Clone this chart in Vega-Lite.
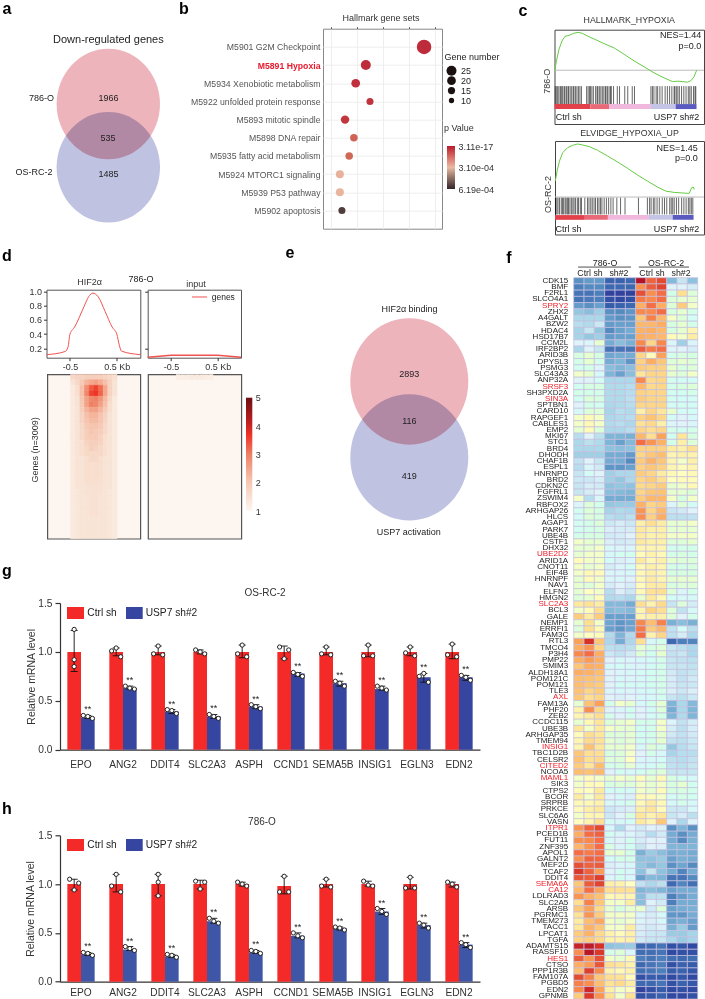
{"$schema":"https://vega.github.io/schema/vega-lite/v6.json","padding":0,"bounds":"flush","spacing":0,
"config":{"font":"Liberation Sans","view":{"stroke":null,"discreteWidth":0.01,"discreteHeight":0.01},"axis":{"grid":false,"labelColor":"#333","titleColor":"#333","titleFontWeight":"normal","domainColor":"#333","tickColor":"#333"},"title":{"fontWeight":"normal","color":"#333","fontSize":9},"text":{"color":"#222","fontSize":9}},
"datasets":{
"g_bars":[{"gene":"EPO","grp":"Ctrl sh","mean":1,"lo":0.8,"hi":1.22},{"gene":"ANG2","grp":"Ctrl sh","mean":1,"lo":0.96,"hi":1.04},{"gene":"DDIT4","grp":"Ctrl sh","mean":1,"lo":0.97,"hi":1.06},{"gene":"SLC2A3","grp":"Ctrl sh","mean":1,"lo":0.98,"hi":1.02},{"gene":"ASPH","grp":"Ctrl sh","mean":1,"lo":0.94,"hi":1.07},{"gene":"CCND1","grp":"Ctrl sh","mean":1,"lo":0.93,"hi":1.06},{"gene":"SEMA5B","grp":"Ctrl sh","mean":1,"lo":0.97,"hi":1.05},{"gene":"INSIG1","grp":"Ctrl sh","mean":1,"lo":0.95,"hi":1.07},{"gene":"EGLN3","grp":"Ctrl sh","mean":1,"lo":0.96,"hi":1.05},{"gene":"EDN2","grp":"Ctrl sh","mean":1,"lo":0.93,"hi":1.08},{"gene":"EPO","grp":"USP7 sh#2","mean":0.33,"lo":0.32,"hi":0.35,"sig":"**"},{"gene":"ANG2","grp":"USP7 sh#2","mean":0.63,"lo":0.62,"hi":0.65,"sig":"**"},{"gene":"DDIT4","grp":"USP7 sh#2","mean":0.39,"lo":0.37,"hi":0.41,"sig":"**"},{"gene":"SLC2A3","grp":"USP7 sh#2","mean":0.34,"lo":0.32,"hi":0.36,"sig":"**"},{"gene":"ASPH","grp":"USP7 sh#2","mean":0.44,"lo":0.42,"hi":0.46,"sig":"**"},{"gene":"CCND1","grp":"USP7 sh#2","mean":0.78,"lo":0.75,"hi":0.79,"sig":"**"},{"gene":"SEMA5B","grp":"USP7 sh#2","mean":0.68,"lo":0.65,"hi":0.7,"sig":"**"},{"gene":"INSIG1","grp":"USP7 sh#2","mean":0.62,"lo":0.61,"hi":0.65,"sig":"**"},{"gene":"EGLN3","grp":"USP7 sh#2","mean":0.74,"lo":0.69,"hi":0.78,"sig":"**"},{"gene":"EDN2","grp":"USP7 sh#2","mean":0.74,"lo":0.71,"hi":0.76,"sig":"**"}],
"g_pts":[{"gene":"EPO","k":"c2","val":1.23},{"gene":"EPO","k":"c2","val":0.92},{"gene":"EPO","k":"c2","val":0.85},{"gene":"ANG2","k":"c1","val":1.01},{"gene":"ANG2","k":"c2","val":1.04},{"gene":"ANG2","k":"c3","val":0.95},{"gene":"DDIT4","k":"c1","val":0.98},{"gene":"DDIT4","k":"c2","val":1.06},{"gene":"DDIT4","k":"c3","val":0.97},{"gene":"SLC2A3","k":"c1","val":1.02},{"gene":"SLC2A3","k":"c2","val":1},{"gene":"SLC2A3","k":"c3","val":0.98},{"gene":"ASPH","k":"c1","val":0.98},{"gene":"ASPH","k":"c2","val":1.07},{"gene":"ASPH","k":"c3","val":0.95},{"gene":"CCND1","k":"c1","val":1.05},{"gene":"CCND1","k":"c3","val":1.02},{"gene":"CCND1","k":"c2","val":0.93},{"gene":"SEMA5B","k":"c1","val":0.98},{"gene":"SEMA5B","k":"c2","val":1.05},{"gene":"SEMA5B","k":"c3","val":0.97},{"gene":"INSIG1","k":"c1","val":0.96},{"gene":"INSIG1","k":"c2","val":1.07},{"gene":"INSIG1","k":"c3","val":0.96},{"gene":"EGLN3","k":"c1","val":0.99},{"gene":"EGLN3","k":"c2","val":1.05},{"gene":"EGLN3","k":"c3","val":0.96},{"gene":"EDN2","k":"c1","val":0.97},{"gene":"EDN2","k":"c2","val":1.08},{"gene":"EDN2","k":"c3","val":0.95},{"gene":"EPO","k":"u1","val":0.35},{"gene":"EPO","k":"u2","val":0.34},{"gene":"EPO","k":"u3","val":0.32},{"gene":"ANG2","k":"u1","val":0.65},{"gene":"ANG2","k":"u2","val":0.63},{"gene":"ANG2","k":"u3","val":0.62},{"gene":"DDIT4","k":"u1","val":0.41},{"gene":"DDIT4","k":"u2","val":0.4},{"gene":"DDIT4","k":"u3","val":0.37},{"gene":"SLC2A3","k":"u1","val":0.36},{"gene":"SLC2A3","k":"u2","val":0.34},{"gene":"SLC2A3","k":"u3","val":0.32},{"gene":"ASPH","k":"u1","val":0.46},{"gene":"ASPH","k":"u2","val":0.44},{"gene":"ASPH","k":"u3","val":0.42},{"gene":"CCND1","k":"u1","val":0.79},{"gene":"CCND1","k":"u2","val":0.77},{"gene":"CCND1","k":"u3","val":0.75},{"gene":"SEMA5B","k":"u1","val":0.7},{"gene":"SEMA5B","k":"u2","val":0.68},{"gene":"SEMA5B","k":"u3","val":0.65},{"gene":"INSIG1","k":"u1","val":0.65},{"gene":"INSIG1","k":"u2","val":0.63},{"gene":"INSIG1","k":"u3","val":0.61},{"gene":"EGLN3","k":"u1","val":0.75},{"gene":"EGLN3","k":"u2","val":0.78},{"gene":"EGLN3","k":"u3","val":0.69},{"gene":"EDN2","k":"u1","val":0.76},{"gene":"EDN2","k":"u2","val":0.74},{"gene":"EDN2","k":"u3","val":0.71}],
"h_bars":[{"gene":"EPO","grp":"Ctrl sh","mean":1,"lo":0.94,"hi":1.05},{"gene":"ANG2","grp":"Ctrl sh","mean":1,"lo":0.92,"hi":1.1},{"gene":"DDIT4","grp":"Ctrl sh","mean":1,"lo":0.88,"hi":1.1},{"gene":"SLC2A3","grp":"Ctrl sh","mean":1,"lo":0.95,"hi":1.04},{"gene":"ASPH","grp":"Ctrl sh","mean":1,"lo":0.98,"hi":1.02},{"gene":"CCND1","grp":"Ctrl sh","mean":0.98,"lo":0.9,"hi":1.08},{"gene":"SEMA5B","grp":"Ctrl sh","mean":1,"lo":0.97,"hi":1.05},{"gene":"INSIG1","grp":"Ctrl sh","mean":1,"lo":0.98,"hi":1.03},{"gene":"EGLN3","grp":"Ctrl sh","mean":1,"lo":0.95,"hi":1.07},{"gene":"EDN2","grp":"Ctrl sh","mean":1,"lo":0.97,"hi":1.02},{"gene":"EPO","grp":"USP7 sh#2","mean":0.28,"lo":0.27,"hi":0.3,"sig":"**"},{"gene":"ANG2","grp":"USP7 sh#2","mean":0.33,"lo":0.32,"hi":0.36,"sig":"**"},{"gene":"DDIT4","grp":"USP7 sh#2","mean":0.26,"lo":0.25,"hi":0.28,"sig":"**"},{"gene":"SLC2A3","grp":"USP7 sh#2","mean":0.62,"lo":0.6,"hi":0.65,"sig":"**"},{"gene":"ASPH","grp":"USP7 sh#2","mean":0.3,"lo":0.29,"hi":0.32,"sig":"**"},{"gene":"CCND1","grp":"USP7 sh#2","mean":0.47,"lo":0.45,"hi":0.5,"sig":"**"},{"gene":"SEMA5B","grp":"USP7 sh#2","mean":0.55,"lo":0.53,"hi":0.56,"sig":"**"},{"gene":"INSIG1","grp":"USP7 sh#2","mean":0.72,"lo":0.69,"hi":0.75,"sig":"**"},{"gene":"EGLN3","grp":"USP7 sh#2","mean":0.58,"lo":0.55,"hi":0.6,"sig":"**"},{"gene":"EDN2","grp":"USP7 sh#2","mean":0.38,"lo":0.35,"hi":0.4,"sig":"**"}],
"h_pts":[{"gene":"EPO","k":"c1","val":1.05},{"gene":"EPO","k":"c2","val":0.94},{"gene":"EPO","k":"c3","val":1.01},{"gene":"ANG2","k":"c1","val":0.98},{"gene":"ANG2","k":"c2","val":1.1},{"gene":"ANG2","k":"c3","val":0.92},{"gene":"DDIT4","k":"c2","val":1.1},{"gene":"DDIT4","k":"c2","val":1.02},{"gene":"DDIT4","k":"c2","val":0.88},{"gene":"SLC2A3","k":"c1","val":1.03},{"gene":"SLC2A3","k":"c2","val":0.95},{"gene":"SLC2A3","k":"c3","val":1.02},{"gene":"ASPH","k":"c1","val":1.02},{"gene":"ASPH","k":"c2","val":1},{"gene":"ASPH","k":"c3","val":0.98},{"gene":"CCND1","k":"c1","val":0.92},{"gene":"CCND1","k":"c2","val":1.08},{"gene":"CCND1","k":"c3","val":0.92},{"gene":"SEMA5B","k":"c1","val":0.98},{"gene":"SEMA5B","k":"c2","val":1.05},{"gene":"SEMA5B","k":"c3","val":0.97},{"gene":"INSIG1","k":"c1","val":1.03},{"gene":"INSIG1","k":"c2","val":0.99},{"gene":"INSIG1","k":"c3","val":0.98},{"gene":"EGLN3","k":"c1","val":0.96},{"gene":"EGLN3","k":"c2","val":1.07},{"gene":"EGLN3","k":"c3","val":0.96},{"gene":"EDN2","k":"c1","val":1.02},{"gene":"EDN2","k":"c2","val":1},{"gene":"EDN2","k":"c3","val":0.97},{"gene":"EPO","k":"u1","val":0.3},{"gene":"EPO","k":"u2","val":0.29},{"gene":"EPO","k":"u3","val":0.27},{"gene":"ANG2","k":"u1","val":0.36},{"gene":"ANG2","k":"u2","val":0.34},{"gene":"ANG2","k":"u3","val":0.32},{"gene":"DDIT4","k":"u1","val":0.28},{"gene":"DDIT4","k":"u2","val":0.27},{"gene":"DDIT4","k":"u3","val":0.25},{"gene":"SLC2A3","k":"u1","val":0.65},{"gene":"SLC2A3","k":"u2","val":0.62},{"gene":"SLC2A3","k":"u3","val":0.6},{"gene":"ASPH","k":"u1","val":0.32},{"gene":"ASPH","k":"u2","val":0.31},{"gene":"ASPH","k":"u3","val":0.29},{"gene":"CCND1","k":"u1","val":0.5},{"gene":"CCND1","k":"u2","val":0.47},{"gene":"CCND1","k":"u3","val":0.45},{"gene":"SEMA5B","k":"u1","val":0.56},{"gene":"SEMA5B","k":"u2","val":0.55},{"gene":"SEMA5B","k":"u3","val":0.53},{"gene":"INSIG1","k":"u1","val":0.75},{"gene":"INSIG1","k":"u2","val":0.72},{"gene":"INSIG1","k":"u3","val":0.69},{"gene":"EGLN3","k":"u1","val":0.6},{"gene":"EGLN3","k":"u2","val":0.58},{"gene":"EGLN3","k":"u3","val":0.55},{"gene":"EDN2","k":"u1","val":0.4},{"gene":"EDN2","k":"u2","val":0.38},{"gene":"EDN2","k":"u3","val":0.35}],
"hits1":[{"r":0.005},{"r":0.015},{"r":0.022},{"r":0.03},{"r":0.04},{"r":0.048},{"r":0.055},{"r":0.065},{"r":0.07},{"r":0.08},{"r":0.09},{"r":0.095},{"r":0.105},{"r":0.115},{"r":0.125},{"r":0.13},{"r":0.14},{"r":0.15},{"r":0.16},{"r":0.17},{"r":0.18},{"r":0.215},{"r":0.225},{"r":0.235},{"r":0.24},{"r":0.25},{"r":0.26},{"r":0.275},{"r":0.285},{"r":0.29},{"r":0.3},{"r":0.31},{"r":0.32},{"r":0.33},{"r":0.34},{"r":0.345},{"r":0.355},{"r":0.365},{"r":0.375},{"r":0.38},{"r":0.395},{"r":0.42},{"r":0.435},{"r":0.47},{"r":0.49},{"r":0.52},{"r":0.535},{"r":0.645},{"r":0.655},{"r":0.665},{"r":0.68},{"r":0.69},{"r":0.705},{"r":0.72},{"r":0.74},{"r":0.755},{"r":0.77},{"r":0.785},{"r":0.8},{"r":0.805},{"r":0.815},{"r":0.825},{"r":0.835},{"r":0.85},{"r":0.865},{"r":0.88},{"r":0.895},{"r":0.905},{"r":0.915},{"r":0.93},{"r":0.94},{"r":0.945}],
"hits2":[{"r":0.003},{"r":0.012},{"r":0.02},{"r":0.03},{"r":0.042},{"r":0.05},{"r":0.058},{"r":0.068},{"r":0.075},{"r":0.085},{"r":0.09},{"r":0.1},{"r":0.11},{"r":0.12},{"r":0.128},{"r":0.138},{"r":0.15},{"r":0.158},{"r":0.17},{"r":0.178},{"r":0.2},{"r":0.218},{"r":0.228},{"r":0.24},{"r":0.25},{"r":0.262},{"r":0.272},{"r":0.285},{"r":0.295},{"r":0.305},{"r":0.315},{"r":0.33},{"r":0.345},{"r":0.36},{"r":0.375},{"r":0.39},{"r":0.415},{"r":0.44},{"r":0.47},{"r":0.56},{"r":0.62},{"r":0.635},{"r":0.645},{"r":0.66},{"r":0.67},{"r":0.685},{"r":0.7},{"r":0.72},{"r":0.735},{"r":0.75},{"r":0.77},{"r":0.78},{"r":0.79},{"r":0.8},{"r":0.815},{"r":0.83},{"r":0.85},{"r":0.865},{"r":0.88},{"r":0.895},{"r":0.905},{"r":0.915},{"r":0.925}],
"peaks":[{"r":1,"c":6,"v":1.5},{"r":1,"c":7,"v":1.6},{"r":1,"c":8,"v":1.6},{"r":1,"c":9,"v":1.7},{"r":1,"c":10,"v":1.7},{"r":1,"c":11,"v":1.7},{"r":1,"c":12,"v":1.7},{"r":1,"c":13,"v":1.6},{"r":1,"c":14,"v":1.5},{"r":1,"c":15,"v":1.4},{"r":2,"c":6,"v":1.3},{"r":2,"c":7,"v":1.5},{"r":2,"c":8,"v":1.8},{"r":2,"c":9,"v":2.2},{"r":2,"c":10,"v":2.4},{"r":2,"c":11,"v":2.5},{"r":2,"c":12,"v":2.3},{"r":2,"c":13,"v":2},{"r":2,"c":14,"v":1.6},{"r":2,"c":15,"v":1.3},{"r":3,"c":6,"v":1.2},{"r":3,"c":7,"v":1.4},{"r":3,"c":8,"v":2},{"r":3,"c":9,"v":2.8},{"r":3,"c":10,"v":3.4},{"r":3,"c":11,"v":3.6},{"r":3,"c":12,"v":3.2},{"r":3,"c":13,"v":2.4},{"r":3,"c":14,"v":1.6},{"r":3,"c":15,"v":1.3},{"r":4,"c":6,"v":1.2},{"r":4,"c":7,"v":1.4},{"r":4,"c":8,"v":2},{"r":4,"c":9,"v":2.9},{"r":4,"c":10,"v":3.6},{"r":4,"c":11,"v":3.7},{"r":4,"c":12,"v":3.3},{"r":4,"c":13,"v":2.4},{"r":4,"c":14,"v":1.6},{"r":4,"c":15,"v":1.3},{"r":5,"c":6,"v":1.2},{"r":5,"c":7,"v":1.3},{"r":5,"c":8,"v":1.9},{"r":5,"c":9,"v":2.5},{"r":5,"c":10,"v":2.9},{"r":5,"c":11,"v":3},{"r":5,"c":12,"v":2.7},{"r":5,"c":13,"v":2.1},{"r":5,"c":14,"v":1.5},{"r":5,"c":15,"v":1.2},{"r":6,"c":6,"v":1.2},{"r":6,"c":7,"v":1.3},{"r":6,"c":8,"v":1.8},{"r":6,"c":9,"v":2.5},{"r":6,"c":10,"v":3},{"r":6,"c":11,"v":2.9},{"r":6,"c":12,"v":2.5},{"r":6,"c":13,"v":2},{"r":6,"c":14,"v":1.4},{"r":6,"c":15,"v":1.2},{"r":7,"c":6,"v":1.2},{"r":7,"c":7,"v":1.3},{"r":7,"c":8,"v":1.7},{"r":7,"c":9,"v":2.2},{"r":7,"c":10,"v":2.5},{"r":7,"c":11,"v":2.5},{"r":7,"c":12,"v":2.2},{"r":7,"c":13,"v":1.8},{"r":7,"c":14,"v":1.4},{"r":7,"c":15,"v":1.2},{"r":8,"c":6,"v":1.2},{"r":8,"c":7,"v":1.3},{"r":8,"c":8,"v":1.6},{"r":8,"c":9,"v":2},{"r":8,"c":10,"v":2.2},{"r":8,"c":11,"v":2.2},{"r":8,"c":12,"v":1.9},{"r":8,"c":13,"v":1.6},{"r":8,"c":14,"v":1.3},{"r":8,"c":15,"v":1.2},{"r":9,"c":6,"v":1.2},{"r":9,"c":7,"v":1.3},{"r":9,"c":8,"v":1.6},{"r":9,"c":9,"v":1.9},{"r":9,"c":10,"v":2.1},{"r":9,"c":11,"v":2.1},{"r":9,"c":12,"v":1.9},{"r":9,"c":13,"v":1.6},{"r":9,"c":14,"v":1.3},{"r":9,"c":15,"v":1.2},{"r":10,"c":6,"v":1.2},{"r":10,"c":7,"v":1.3},{"r":10,"c":8,"v":1.5},{"r":10,"c":9,"v":1.8},{"r":10,"c":10,"v":1.9},{"r":10,"c":11,"v":1.9},{"r":10,"c":12,"v":1.8},{"r":10,"c":13,"v":1.5},{"r":10,"c":14,"v":1.3},{"r":10,"c":15,"v":1.2},{"r":11,"c":6,"v":1.2},{"r":11,"c":7,"v":1.3},{"r":11,"c":8,"v":1.5},{"r":11,"c":9,"v":1.7},{"r":11,"c":10,"v":1.9},{"r":11,"c":11,"v":1.8},{"r":11,"c":12,"v":1.7},{"r":11,"c":13,"v":1.5},{"r":11,"c":14,"v":1.3},{"r":11,"c":15,"v":1.2},{"r":12,"c":6,"v":1.2},{"r":12,"c":7,"v":1.3},{"r":12,"c":8,"v":1.5},{"r":12,"c":9,"v":1.7},{"r":12,"c":10,"v":1.8},{"r":12,"c":11,"v":1.8},{"r":12,"c":12,"v":1.6},{"r":12,"c":13,"v":1.4},{"r":12,"c":14,"v":1.3},{"r":12,"c":15,"v":1.2},{"r":13,"c":6,"v":1.2},{"r":13,"c":7,"v":1.3},{"r":13,"c":8,"v":1.4},{"r":13,"c":9,"v":1.6},{"r":13,"c":10,"v":1.7},{"r":13,"c":11,"v":1.7},{"r":13,"c":12,"v":1.6},{"r":13,"c":13,"v":1.4},{"r":13,"c":14,"v":1.3},{"r":13,"c":15,"v":1.2},{"r":14,"c":6,"v":1.2},{"r":14,"c":7,"v":1.3},{"r":14,"c":8,"v":1.4},{"r":14,"c":9,"v":1.5},{"r":14,"c":10,"v":1.7},{"r":14,"c":11,"v":1.6},{"r":14,"c":12,"v":1.5},{"r":14,"c":13,"v":1.4},{"r":14,"c":14,"v":1.3},{"r":14,"c":15,"v":1.2},{"r":15,"c":6,"v":1.2},{"r":15,"c":7,"v":1.3},{"r":15,"c":8,"v":1.4},{"r":15,"c":9,"v":1.5},{"r":15,"c":10,"v":1.5},{"r":15,"c":11,"v":1.5},{"r":15,"c":12,"v":1.5},{"r":15,"c":13,"v":1.4},{"r":15,"c":14,"v":1.3},{"r":15,"c":15,"v":1.2},{"r":16,"c":6,"v":1.2},{"r":16,"c":7,"v":1.3},{"r":16,"c":8,"v":1.3},{"r":16,"c":9,"v":1.4},{"r":16,"c":10,"v":1.5},{"r":16,"c":11,"v":1.5},{"r":16,"c":12,"v":1.4},{"r":16,"c":13,"v":1.3},{"r":16,"c":14,"v":1.3},{"r":16,"c":15,"v":1.2},{"r":17,"c":6,"v":1.2},{"r":17,"c":7,"v":1.3},{"r":17,"c":8,"v":1.3},{"r":17,"c":9,"v":1.4},{"r":17,"c":10,"v":1.4},{"r":17,"c":11,"v":1.4},{"r":17,"c":12,"v":1.4},{"r":17,"c":13,"v":1.3},{"r":17,"c":14,"v":1.3},{"r":17,"c":15,"v":1.2},{"r":18,"c":6,"v":1.2},{"r":18,"c":7,"v":1.3},{"r":18,"c":8,"v":1.3},{"r":18,"c":9,"v":1.4},{"r":18,"c":10,"v":1.4},{"r":18,"c":11,"v":1.4},{"r":18,"c":12,"v":1.4},{"r":18,"c":13,"v":1.3},{"r":18,"c":14,"v":1.3},{"r":18,"c":15,"v":1.2},{"r":19,"c":6,"v":1.2},{"r":19,"c":7,"v":1.3},{"r":19,"c":8,"v":1.3},{"r":19,"c":9,"v":1.4},{"r":19,"c":10,"v":1.4},{"r":19,"c":11,"v":1.4},{"r":19,"c":12,"v":1.4},{"r":19,"c":13,"v":1.3},{"r":19,"c":14,"v":1.3},{"r":19,"c":15,"v":1.2},{"r":20,"c":6,"v":1.2},{"r":20,"c":7,"v":1.3},{"r":20,"c":8,"v":1.3},{"r":20,"c":9,"v":1.4},{"r":20,"c":10,"v":1.4},{"r":20,"c":11,"v":1.4},{"r":20,"c":12,"v":1.4},{"r":20,"c":13,"v":1.3},{"r":20,"c":14,"v":1.3},{"r":20,"c":15,"v":1.2},{"r":21,"c":6,"v":1.2},{"r":21,"c":7,"v":1.3},{"r":21,"c":8,"v":1.3},{"r":21,"c":9,"v":1.35},{"r":21,"c":10,"v":1.35},{"r":21,"c":11,"v":1.35},{"r":21,"c":12,"v":1.35},{"r":21,"c":13,"v":1.3},{"r":21,"c":14,"v":1.3},{"r":21,"c":15,"v":1.2},{"r":22,"c":6,"v":1.2},{"r":22,"c":7,"v":1.25},{"r":22,"c":8,"v":1.3},{"r":22,"c":9,"v":1.35},{"r":22,"c":10,"v":1.35},{"r":22,"c":11,"v":1.35},{"r":22,"c":12,"v":1.35},{"r":22,"c":13,"v":1.3},{"r":22,"c":14,"v":1.25},{"r":22,"c":15,"v":1.2},{"r":23,"c":6,"v":1.2},{"r":23,"c":7,"v":1.25},{"r":23,"c":8,"v":1.3},{"r":23,"c":9,"v":1.3},{"r":23,"c":10,"v":1.35},{"r":23,"c":11,"v":1.35},{"r":23,"c":12,"v":1.3},{"r":23,"c":13,"v":1.3},{"r":23,"c":14,"v":1.25},{"r":23,"c":15,"v":1.2},{"r":24,"c":6,"v":1.2},{"r":24,"c":7,"v":1.25},{"r":24,"c":8,"v":1.3},{"r":24,"c":9,"v":1.3},{"r":24,"c":10,"v":1.35},{"r":24,"c":11,"v":1.35},{"r":24,"c":12,"v":1.3},{"r":24,"c":13,"v":1.3},{"r":24,"c":14,"v":1.25},{"r":24,"c":15,"v":1.2},{"r":25,"c":6,"v":1.2},{"r":25,"c":7,"v":1.25},{"r":25,"c":8,"v":1.3},{"r":25,"c":9,"v":1.3},{"r":25,"c":10,"v":1.35},{"r":25,"c":11,"v":1.35},{"r":25,"c":12,"v":1.3},{"r":25,"c":13,"v":1.3},{"r":25,"c":14,"v":1.25},{"r":25,"c":15,"v":1.2},{"r":26,"c":6,"v":1.2},{"r":26,"c":7,"v":1.25},{"r":26,"c":8,"v":1.3},{"r":26,"c":9,"v":1.3},{"r":26,"c":10,"v":1.35},{"r":26,"c":11,"v":1.35},{"r":26,"c":12,"v":1.3},{"r":26,"c":13,"v":1.3},{"r":26,"c":14,"v":1.25},{"r":26,"c":15,"v":1.2},{"r":27,"c":6,"v":1.2},{"r":27,"c":7,"v":1.25},{"r":27,"c":8,"v":1.3},{"r":27,"c":9,"v":1.3},{"r":27,"c":10,"v":1.3},{"r":27,"c":11,"v":1.3},{"r":27,"c":12,"v":1.3},{"r":27,"c":13,"v":1.3},{"r":27,"c":14,"v":1.25},{"r":27,"c":15,"v":1.2},{"r":28,"c":6,"v":1.2},{"r":28,"c":7,"v":1.25},{"r":28,"c":8,"v":1.3},{"r":28,"c":9,"v":1.3},{"r":28,"c":10,"v":1.3},{"r":28,"c":11,"v":1.3},{"r":28,"c":12,"v":1.3},{"r":28,"c":13,"v":1.3},{"r":28,"c":14,"v":1.25},{"r":28,"c":15,"v":1.2},{"r":29,"c":6,"v":1.2},{"r":29,"c":7,"v":1.25},{"r":29,"c":8,"v":1.3},{"r":29,"c":9,"v":1.3},{"r":29,"c":10,"v":1.3},{"r":29,"c":11,"v":1.3},{"r":29,"c":12,"v":1.3},{"r":29,"c":13,"v":1.3},{"r":29,"c":14,"v":1.25},{"r":29,"c":15,"v":1.2},{"r":30,"c":6,"v":1.2},{"r":30,"c":7,"v":1.25},{"r":30,"c":8,"v":1.3},{"r":30,"c":9,"v":1.3},{"r":30,"c":10,"v":1.3},{"r":30,"c":11,"v":1.3},{"r":30,"c":12,"v":1.3},{"r":30,"c":13,"v":1.3},{"r":30,"c":14,"v":1.25},{"r":30,"c":15,"v":1.2}],
"expr":[{"g":"CDK15","c":1,"v":-3.5},{"g":"CDK15","c":2,"v":-3.3},{"g":"CDK15","c":3,"v":-3.3},{"g":"CDK15","c":4,"v":-4.3},{"g":"CDK15","c":5,"v":-4.3},{"g":"CDK15","c":6,"v":-4.2},{"g":"CDK15","c":7,"v":4.7},{"g":"CDK15","c":8,"v":3.2},{"g":"CDK15","c":9,"v":3.6},{"g":"CDK15","c":10,"v":-2.7},{"g":"CDK15","c":11,"v":-1.5},{"g":"CDK15","c":12,"v":-2.5},
{"g":"BMF","c":1,"v":-3.8},{"g":"BMF","c":2,"v":-3.6},{"g":"BMF","c":3,"v":-3.6},{"g":"BMF","c":4,"v":-4.2},{"g":"BMF","c":5,"v":-4.2},{"g":"BMF","c":6,"v":-4.2},{"g":"BMF","c":7,"v":2.5},{"g":"BMF","c":8,"v":3.3},{"g":"BMF","c":9,"v":3.7},{"g":"BMF","c":10,"v":-1},{"g":"BMF","c":11,"v":-1},{"g":"BMF","c":12,"v":-1.2},
{"g":"F2RL1","c":1,"v":-4},{"g":"F2RL1","c":2,"v":-4},{"g":"F2RL1","c":3,"v":-3.8},{"g":"F2RL1","c":4,"v":-4.8},{"g":"F2RL1","c":5,"v":-4.8},{"g":"F2RL1","c":6,"v":-4.8},{"g":"F2RL1","c":7,"v":3.5},{"g":"F2RL1","c":8,"v":2.5},{"g":"F2RL1","c":9,"v":3},{"g":"F2RL1","c":10,"v":-0.5},{"g":"F2RL1","c":11,"v":1},{"g":"F2RL1","c":12,"v":-0.3},
{"g":"SLCO4A1","c":1,"v":-4},{"g":"SLCO4A1","c":2,"v":-3.9},{"g":"SLCO4A1","c":3,"v":-3.8},{"g":"SLCO4A1","c":4,"v":-4.6},{"g":"SLCO4A1","c":5,"v":-4.7},{"g":"SLCO4A1","c":6,"v":-4.6},{"g":"SLCO4A1","c":7,"v":2.8},{"g":"SLCO4A1","c":8,"v":2.6},{"g":"SLCO4A1","c":9,"v":3},{"g":"SLCO4A1","c":10,"v":-0.3},{"g":"SLCO4A1","c":11,"v":-0.2},{"g":"SLCO4A1","c":12,"v":-0.2},
{"g":"SPRY2","c":1,"v":-3.3},{"g":"SPRY2","c":2,"v":-3.5},{"g":"SPRY2","c":3,"v":-3.2},{"g":"SPRY2","c":4,"v":-4.4},{"g":"SPRY2","c":5,"v":-4.3},{"g":"SPRY2","c":6,"v":-4.2},{"g":"SPRY2","c":7,"v":2},{"g":"SPRY2","c":8,"v":3},{"g":"SPRY2","c":9,"v":2},{"g":"SPRY2","c":10,"v":-0.3},{"g":"SPRY2","c":11,"v":1.4},{"g":"SPRY2","c":12,"v":-0.1},
{"g":"ZHX2","c":1,"v":-2.4},{"g":"ZHX2","c":2,"v":-2.6},{"g":"ZHX2","c":3,"v":-2.2},{"g":"ZHX2","c":4,"v":-3.5},{"g":"ZHX2","c":5,"v":-3.6},{"g":"ZHX2","c":6,"v":-3.4},{"g":"ZHX2","c":7,"v":2.6},{"g":"ZHX2","c":8,"v":2.6},{"g":"ZHX2","c":9,"v":3},{"g":"ZHX2","c":10,"v":-0.4},{"g":"ZHX2","c":11,"v":-0.2},{"g":"ZHX2","c":12,"v":-0.5},
{"g":"A4GALT","c":1,"v":-2},{"g":"A4GALT","c":2,"v":-2},{"g":"A4GALT","c":3,"v":-2},{"g":"A4GALT","c":4,"v":-3.3},{"g":"A4GALT","c":5,"v":-3.5},{"g":"A4GALT","c":6,"v":-3.4},{"g":"A4GALT","c":7,"v":1.5},{"g":"A4GALT","c":8,"v":2.7},{"g":"A4GALT","c":9,"v":1.8},{"g":"A4GALT","c":10,"v":-0.1},{"g":"A4GALT","c":11,"v":-0.3},{"g":"A4GALT","c":12,"v":-0.7},
{"g":"BZW2","c":1,"v":-1.8},{"g":"BZW2","c":2,"v":-1.9},{"g":"BZW2","c":3,"v":-1.4},{"g":"BZW2","c":4,"v":-3.3},{"g":"BZW2","c":5,"v":-3.2},{"g":"BZW2","c":6,"v":-3.2},{"g":"BZW2","c":7,"v":1.8},{"g":"BZW2","c":8,"v":1.8},{"g":"BZW2","c":9,"v":2},{"g":"BZW2","c":10,"v":-0.4},{"g":"BZW2","c":11,"v":-0.2},{"g":"BZW2","c":12,"v":-0.5},
{"g":"HDAC4","c":1,"v":-2.1},{"g":"HDAC4","c":2,"v":-1.5},{"g":"HDAC4","c":3,"v":-2.4},{"g":"HDAC4","c":4,"v":-3.6},{"g":"HDAC4","c":5,"v":-3.2},{"g":"HDAC4","c":6,"v":-3},{"g":"HDAC4","c":7,"v":1.9},{"g":"HDAC4","c":8,"v":2},{"g":"HDAC4","c":9,"v":1.8},{"g":"HDAC4","c":10,"v":-0.4},{"g":"HDAC4","c":11,"v":-0.2},{"g":"HDAC4","c":12,"v":0.3},
{"g":"HSD17B7","c":1,"v":-2.1},{"g":"HSD17B7","c":2,"v":-2.4},{"g":"HSD17B7","c":3,"v":-2.2},{"g":"HSD17B7","c":4,"v":-3.3},{"g":"HSD17B7","c":5,"v":-3.2},{"g":"HSD17B7","c":6,"v":-3.2},{"g":"HSD17B7","c":7,"v":2},{"g":"HSD17B7","c":8,"v":1.9},{"g":"HSD17B7","c":9,"v":1.8},{"g":"HSD17B7","c":10,"v":0.1},{"g":"HSD17B7","c":11,"v":-0.1},{"g":"HSD17B7","c":12,"v":0.6},
{"g":"CCM2L","c":1,"v":-1},{"g":"CCM2L","c":2,"v":-0.9},{"g":"CCM2L","c":3,"v":-0.2},{"g":"CCM2L","c":4,"v":-3},{"g":"CCM2L","c":5,"v":-2.6},{"g":"CCM2L","c":6,"v":-2.9},{"g":"CCM2L","c":7,"v":2.6},{"g":"CCM2L","c":8,"v":1.2},{"g":"CCM2L","c":9,"v":2.6},{"g":"CCM2L","c":10,"v":-0.9},{"g":"CCM2L","c":11,"v":-2.2},{"g":"CCM2L","c":12,"v":-0.9},
{"g":"IRF2BP2","c":1,"v":-2},{"g":"IRF2BP2","c":2,"v":-1},{"g":"IRF2BP2","c":3,"v":-1.5},{"g":"IRF2BP2","c":4,"v":-4},{"g":"IRF2BP2","c":5,"v":-4},{"g":"IRF2BP2","c":6,"v":-4},{"g":"IRF2BP2","c":7,"v":3.3},{"g":"IRF2BP2","c":8,"v":2.8},{"g":"IRF2BP2","c":9,"v":3},{"g":"IRF2BP2","c":10,"v":-1},{"g":"IRF2BP2","c":11,"v":-1},{"g":"IRF2BP2","c":12,"v":-1.2},
{"g":"ARID3B","c":1,"v":-0.4},{"g":"ARID3B","c":2,"v":-0.2},{"g":"ARID3B","c":3,"v":-0.4},{"g":"ARID3B","c":4,"v":-3.1},{"g":"ARID3B","c":5,"v":-3},{"g":"ARID3B","c":6,"v":-3},{"g":"ARID3B","c":7,"v":1.2},{"g":"ARID3B","c":8,"v":0.1},{"g":"ARID3B","c":9,"v":2.2},{"g":"ARID3B","c":10,"v":-0.5},{"g":"ARID3B","c":11,"v":-0.4},{"g":"ARID3B","c":12,"v":-0.4},
{"g":"DPYSL3","c":1,"v":-0.5},{"g":"DPYSL3","c":2,"v":-0.2},{"g":"DPYSL3","c":3,"v":-0.5},{"g":"DPYSL3","c":4,"v":-3},{"g":"DPYSL3","c":5,"v":-2.8},{"g":"DPYSL3","c":6,"v":-3.4},{"g":"DPYSL3","c":7,"v":1.3},{"g":"DPYSL3","c":8,"v":2},{"g":"DPYSL3","c":9,"v":1.5},{"g":"DPYSL3","c":10,"v":-0.3},{"g":"DPYSL3","c":11,"v":-0.2},{"g":"DPYSL3","c":12,"v":-0.3},
{"g":"PSMG3","c":1,"v":-0.6},{"g":"PSMG3","c":2,"v":-0.5},{"g":"PSMG3","c":3,"v":-1},{"g":"PSMG3","c":4,"v":-2.6},{"g":"PSMG3","c":5,"v":-2.8},{"g":"PSMG3","c":6,"v":-2.6},{"g":"PSMG3","c":7,"v":1.4},{"g":"PSMG3","c":8,"v":1.3},{"g":"PSMG3","c":9,"v":1.3},{"g":"PSMG3","c":10,"v":-0.2},{"g":"PSMG3","c":11,"v":-0.4},{"g":"PSMG3","c":12,"v":-0.3},
{"g":"SLC43A3","c":1,"v":-0.1},{"g":"SLC43A3","c":2,"v":-0.2},{"g":"SLC43A3","c":3,"v":-0.8},{"g":"SLC43A3","c":4,"v":-2.8},{"g":"SLC43A3","c":5,"v":-3.2},{"g":"SLC43A3","c":6,"v":-2.6},{"g":"SLC43A3","c":7,"v":0.8},{"g":"SLC43A3","c":8,"v":1.2},{"g":"SLC43A3","c":9,"v":1.2},{"g":"SLC43A3","c":10,"v":-0.2},{"g":"SLC43A3","c":11,"v":-0.3},{"g":"SLC43A3","c":12,"v":-0.1},
{"g":"ANP32A","c":1,"v":-1},{"g":"ANP32A","c":2,"v":-1},{"g":"ANP32A","c":3,"v":-0.7},{"g":"ANP32A","c":4,"v":-2},{"g":"ANP32A","c":5,"v":-2},{"g":"ANP32A","c":6,"v":-2},{"g":"ANP32A","c":7,"v":2.6},{"g":"ANP32A","c":8,"v":1.1},{"g":"ANP32A","c":9,"v":1.2},{"g":"ANP32A","c":10,"v":-0.6},{"g":"ANP32A","c":11,"v":-0.7},{"g":"ANP32A","c":12,"v":-0.7},
{"g":"SRSF3","c":1,"v":-0.6},{"g":"SRSF3","c":2,"v":-0.4},{"g":"SRSF3","c":3,"v":-0.4},{"g":"SRSF3","c":4,"v":-1.9},{"g":"SRSF3","c":5,"v":-1.9},{"g":"SRSF3","c":6,"v":-1.8},{"g":"SRSF3","c":7,"v":1.8},{"g":"SRSF3","c":8,"v":1.1},{"g":"SRSF3","c":9,"v":1.2},{"g":"SRSF3","c":10,"v":-0.5},{"g":"SRSF3","c":11,"v":-0.4},{"g":"SRSF3","c":12,"v":-0.3},
{"g":"SH3PXD2A","c":1,"v":-0.5},{"g":"SH3PXD2A","c":2,"v":-0.5},{"g":"SH3PXD2A","c":3,"v":-0.5},{"g":"SH3PXD2A","c":4,"v":-1.9},{"g":"SH3PXD2A","c":5,"v":-1.9},{"g":"SH3PXD2A","c":6,"v":-1.8},{"g":"SH3PXD2A","c":7,"v":1.3},{"g":"SH3PXD2A","c":8,"v":1.2},{"g":"SH3PXD2A","c":9,"v":1.2},{"g":"SH3PXD2A","c":10,"v":-0.6},{"g":"SH3PXD2A","c":11,"v":-0.6},{"g":"SH3PXD2A","c":12,"v":-0.5},
{"g":"SIN3A","c":1,"v":-0.6},{"g":"SIN3A","c":2,"v":-0.3},{"g":"SIN3A","c":3,"v":-0.4},{"g":"SIN3A","c":4,"v":-1.9},{"g":"SIN3A","c":5,"v":-1.9},{"g":"SIN3A","c":6,"v":-1.7},{"g":"SIN3A","c":7,"v":1.4},{"g":"SIN3A","c":8,"v":1.2},{"g":"SIN3A","c":9,"v":1.2},{"g":"SIN3A","c":10,"v":-0.6},{"g":"SIN3A","c":11,"v":-0.7},{"g":"SIN3A","c":12,"v":-0.7},
{"g":"SPTBN1","c":1,"v":-1},{"g":"SPTBN1","c":2,"v":-0.5},{"g":"SPTBN1","c":3,"v":-0.6},{"g":"SPTBN1","c":4,"v":-2},{"g":"SPTBN1","c":5,"v":-1.9},{"g":"SPTBN1","c":6,"v":-1.8},{"g":"SPTBN1","c":7,"v":1.2},{"g":"SPTBN1","c":8,"v":1.2},{"g":"SPTBN1","c":9,"v":1.2},{"g":"SPTBN1","c":10,"v":-0.7},{"g":"SPTBN1","c":11,"v":-0.6},{"g":"SPTBN1","c":12,"v":-0.7},
{"g":"CARD10","c":1,"v":-0.8},{"g":"CARD10","c":2,"v":-0.3},{"g":"CARD10","c":3,"v":-0.3},{"g":"CARD10","c":4,"v":-2.1},{"g":"CARD10","c":5,"v":-1.8},{"g":"CARD10","c":6,"v":-1.9},{"g":"CARD10","c":7,"v":0.5},{"g":"CARD10","c":8,"v":1.2},{"g":"CARD10","c":9,"v":0.8},{"g":"CARD10","c":10,"v":-0.2},{"g":"CARD10","c":11,"v":-0.7},{"g":"CARD10","c":12,"v":-0.7},
{"g":"RAPGEF1","c":1,"v":-0.1},{"g":"RAPGEF1","c":2,"v":0.2},{"g":"RAPGEF1","c":3,"v":-0.1},{"g":"RAPGEF1","c":4,"v":-2},{"g":"RAPGEF1","c":5,"v":-1.9},{"g":"RAPGEF1","c":6,"v":-1.8},{"g":"RAPGEF1","c":7,"v":1.3},{"g":"RAPGEF1","c":8,"v":1.6},{"g":"RAPGEF1","c":9,"v":1.2},{"g":"RAPGEF1","c":10,"v":-0.7},{"g":"RAPGEF1","c":11,"v":-1},{"g":"RAPGEF1","c":12,"v":-0.8},
{"g":"CABLES1","c":1,"v":-0.1},{"g":"CABLES1","c":2,"v":0.2},{"g":"CABLES1","c":3,"v":-0.1},{"g":"CABLES1","c":4,"v":-1.9},{"g":"CABLES1","c":5,"v":-1.8},{"g":"CABLES1","c":6,"v":-2},{"g":"CABLES1","c":7,"v":0.9},{"g":"CABLES1","c":8,"v":1.1},{"g":"CABLES1","c":9,"v":0.5},{"g":"CABLES1","c":10,"v":-0.9},{"g":"CABLES1","c":11,"v":-1},{"g":"CABLES1","c":12,"v":-0.9},
{"g":"EMP2","c":1,"v":-0.2},{"g":"EMP2","c":2,"v":0.1},{"g":"EMP2","c":3,"v":-0.3},{"g":"EMP2","c":4,"v":-2},{"g":"EMP2","c":5,"v":-2},{"g":"EMP2","c":6,"v":-1.8},{"g":"EMP2","c":7,"v":1.2},{"g":"EMP2","c":8,"v":1},{"g":"EMP2","c":9,"v":1.2},{"g":"EMP2","c":10,"v":-0.5},{"g":"EMP2","c":11,"v":-0.6},{"g":"EMP2","c":12,"v":-0.5},
{"g":"MKI67","c":1,"v":-1.8},{"g":"MKI67","c":2,"v":-1},{"g":"MKI67","c":3,"v":-1.7},{"g":"MKI67","c":4,"v":-2.8},{"g":"MKI67","c":5,"v":-2.8},{"g":"MKI67","c":6,"v":-2.9},{"g":"MKI67","c":7,"v":1.8},{"g":"MKI67","c":8,"v":1},{"g":"MKI67","c":9,"v":2.2},{"g":"MKI67","c":10,"v":-0.6},{"g":"MKI67","c":11,"v":0.8},{"g":"MKI67","c":12,"v":-0.4},
{"g":"STC1","c":1,"v":-2},{"g":"STC1","c":2,"v":-1.7},{"g":"STC1","c":3,"v":-1.9},{"g":"STC1","c":4,"v":-2.8},{"g":"STC1","c":5,"v":-3.2},{"g":"STC1","c":6,"v":-2.7},{"g":"STC1","c":7,"v":3},{"g":"STC1","c":8,"v":2.4},{"g":"STC1","c":9,"v":1.9},{"g":"STC1","c":10,"v":-0.5},{"g":"STC1","c":11,"v":0.5},{"g":"STC1","c":12,"v":-0.3},
{"g":"BRD4","c":1,"v":-2},{"g":"BRD4","c":2,"v":-2},{"g":"BRD4","c":3,"v":-2},{"g":"BRD4","c":4,"v":-2.5},{"g":"BRD4","c":5,"v":-2.6},{"g":"BRD4","c":6,"v":-2.5},{"g":"BRD4","c":7,"v":1.3},{"g":"BRD4","c":8,"v":1.3},{"g":"BRD4","c":9,"v":1.3},{"g":"BRD4","c":10,"v":0.6},{"g":"BRD4","c":11,"v":0.5},{"g":"BRD4","c":12,"v":1},
{"g":"DHODH","c":1,"v":-2.2},{"g":"DHODH","c":2,"v":-2.2},{"g":"DHODH","c":3,"v":-2.2},{"g":"DHODH","c":4,"v":-3},{"g":"DHODH","c":5,"v":-3},{"g":"DHODH","c":6,"v":-3.3},{"g":"DHODH","c":7,"v":1.2},{"g":"DHODH","c":8,"v":1.5},{"g":"DHODH","c":9,"v":1.7},{"g":"DHODH","c":10,"v":0.3},{"g":"DHODH","c":11,"v":0.5},{"g":"DHODH","c":12,"v":0.4},
{"g":"CHAF1B","c":1,"v":-1.6},{"g":"CHAF1B","c":2,"v":-1},{"g":"CHAF1B","c":3,"v":-1.5},{"g":"CHAF1B","c":4,"v":-3},{"g":"CHAF1B","c":5,"v":-3},{"g":"CHAF1B","c":6,"v":-3.6},{"g":"CHAF1B","c":7,"v":1.4},{"g":"CHAF1B","c":8,"v":1.9},{"g":"CHAF1B","c":9,"v":1.5},{"g":"CHAF1B","c":10,"v":0.3},{"g":"CHAF1B","c":11,"v":-0.1},{"g":"CHAF1B","c":12,"v":0.5},
{"g":"ESPL1","c":1,"v":-1.8},{"g":"ESPL1","c":2,"v":-0.9},{"g":"ESPL1","c":3,"v":-1.3},{"g":"ESPL1","c":4,"v":-3.4},{"g":"ESPL1","c":5,"v":-3.4},{"g":"ESPL1","c":6,"v":-3.2},{"g":"ESPL1","c":7,"v":1.3},{"g":"ESPL1","c":8,"v":1.5},{"g":"ESPL1","c":9,"v":1.3},{"g":"ESPL1","c":10,"v":0.3},{"g":"ESPL1","c":11,"v":0.1},{"g":"ESPL1","c":12,"v":0.3},
{"g":"HNRNPD","c":1,"v":-1.5},{"g":"HNRNPD","c":2,"v":-0.7},{"g":"HNRNPD","c":3,"v":-1},{"g":"HNRNPD","c":4,"v":-2.2},{"g":"HNRNPD","c":5,"v":-2},{"g":"HNRNPD","c":6,"v":-2},{"g":"HNRNPD","c":7,"v":1.4},{"g":"HNRNPD","c":8,"v":1.2},{"g":"HNRNPD","c":9,"v":0.6},{"g":"HNRNPD","c":10,"v":0.2},{"g":"HNRNPD","c":11,"v":0},{"g":"HNRNPD","c":12,"v":0.2},
{"g":"BRD2","c":1,"v":-1.4},{"g":"BRD2","c":2,"v":-1.4},{"g":"BRD2","c":3,"v":-1.2},{"g":"BRD2","c":4,"v":-2.2},{"g":"BRD2","c":5,"v":-2.4},{"g":"BRD2","c":6,"v":-2},{"g":"BRD2","c":7,"v":1.2},{"g":"BRD2","c":8,"v":1.4},{"g":"BRD2","c":9,"v":1},{"g":"BRD2","c":10,"v":0},{"g":"BRD2","c":11,"v":0.1},{"g":"BRD2","c":12,"v":0.1},
{"g":"CDKN2C","c":1,"v":-1.5},{"g":"CDKN2C","c":2,"v":-1.2},{"g":"CDKN2C","c":3,"v":-1.3},{"g":"CDKN2C","c":4,"v":-2.5},{"g":"CDKN2C","c":5,"v":-2.4},{"g":"CDKN2C","c":6,"v":-2.5},{"g":"CDKN2C","c":7,"v":1.1},{"g":"CDKN2C","c":8,"v":1.2},{"g":"CDKN2C","c":9,"v":1.4},{"g":"CDKN2C","c":10,"v":-0.2},{"g":"CDKN2C","c":11,"v":-0.1},{"g":"CDKN2C","c":12,"v":0.2},
{"g":"FGFRL1","c":1,"v":-1.5},{"g":"FGFRL1","c":2,"v":-1.2},{"g":"FGFRL1","c":3,"v":-1},{"g":"FGFRL1","c":4,"v":-2.6},{"g":"FGFRL1","c":5,"v":-2.7},{"g":"FGFRL1","c":6,"v":-2.8},{"g":"FGFRL1","c":7,"v":1.2},{"g":"FGFRL1","c":8,"v":1.5},{"g":"FGFRL1","c":9,"v":1.6},{"g":"FGFRL1","c":10,"v":-0.2},{"g":"FGFRL1","c":11,"v":-0.2},{"g":"FGFRL1","c":12,"v":-0.3},
{"g":"ZSWIM4","c":1,"v":-0.1},{"g":"ZSWIM4","c":2,"v":-1.8},{"g":"ZSWIM4","c":3,"v":-0.9},{"g":"ZSWIM4","c":4,"v":-3},{"g":"ZSWIM4","c":5,"v":-3},{"g":"ZSWIM4","c":6,"v":-3},{"g":"ZSWIM4","c":7,"v":1.4},{"g":"ZSWIM4","c":8,"v":1.8},{"g":"ZSWIM4","c":9,"v":1.8},{"g":"ZSWIM4","c":10,"v":-0.1},{"g":"ZSWIM4","c":11,"v":-0.4},{"g":"ZSWIM4","c":12,"v":-0.1},
{"g":"RBFOX2","c":1,"v":-0.9},{"g":"RBFOX2","c":2,"v":-0.3},{"g":"RBFOX2","c":3,"v":-0.5},{"g":"RBFOX2","c":4,"v":-2.4},{"g":"RBFOX2","c":5,"v":-2.3},{"g":"RBFOX2","c":6,"v":-2.3},{"g":"RBFOX2","c":7,"v":1.9},{"g":"RBFOX2","c":8,"v":1.2},{"g":"RBFOX2","c":9,"v":1.4},{"g":"RBFOX2","c":10,"v":-0.9},{"g":"RBFOX2","c":11,"v":-0.3},{"g":"RBFOX2","c":12,"v":-0.7},
{"g":"ARHGAP26","c":1,"v":-0.6},{"g":"ARHGAP26","c":2,"v":-0.3},{"g":"ARHGAP26","c":3,"v":-0.4},{"g":"ARHGAP26","c":4,"v":-2.1},{"g":"ARHGAP26","c":5,"v":-1.9},{"g":"ARHGAP26","c":6,"v":-2},{"g":"ARHGAP26","c":7,"v":2.4},{"g":"ARHGAP26","c":8,"v":1.2},{"g":"ARHGAP26","c":9,"v":1.8},{"g":"ARHGAP26","c":10,"v":-1.5},{"g":"ARHGAP26","c":11,"v":-1.3},{"g":"ARHGAP26","c":12,"v":-1},
{"g":"HLCS","c":1,"v":-0.7},{"g":"HLCS","c":2,"v":-0.3},{"g":"HLCS","c":3,"v":-0.4},{"g":"HLCS","c":4,"v":-1.8},{"g":"HLCS","c":5,"v":-1.9},{"g":"HLCS","c":6,"v":-1.7},{"g":"HLCS","c":7,"v":2.5},{"g":"HLCS","c":8,"v":1.3},{"g":"HLCS","c":9,"v":2},{"g":"HLCS","c":10,"v":-1.7},{"g":"HLCS","c":11,"v":-1.7},{"g":"HLCS","c":12,"v":-1.6},
{"g":"AGAP1","c":1,"v":-0.6},{"g":"AGAP1","c":2,"v":-0.5},{"g":"AGAP1","c":3,"v":-0.3},{"g":"AGAP1","c":4,"v":-1.4},{"g":"AGAP1","c":5,"v":-1.2},{"g":"AGAP1","c":6,"v":-1.4},{"g":"AGAP1","c":7,"v":0.5},{"g":"AGAP1","c":8,"v":1},{"g":"AGAP1","c":9,"v":0.6},{"g":"AGAP1","c":10,"v":-0.2},{"g":"AGAP1","c":11,"v":-0.2},{"g":"AGAP1","c":12,"v":-0.1},
{"g":"PARK7","c":1,"v":-0.6},{"g":"PARK7","c":2,"v":-0.5},{"g":"PARK7","c":3,"v":-0.4},{"g":"PARK7","c":4,"v":-1.1},{"g":"PARK7","c":5,"v":-1.2},{"g":"PARK7","c":6,"v":-1.2},{"g":"PARK7","c":7,"v":0.7},{"g":"PARK7","c":8,"v":0.5},{"g":"PARK7","c":9,"v":0.5},{"g":"PARK7","c":10,"v":-0.2},{"g":"PARK7","c":11,"v":-0.2},{"g":"PARK7","c":12,"v":-0.2},
{"g":"UBE4B","c":1,"v":-0.5},{"g":"UBE4B","c":2,"v":-0.4},{"g":"UBE4B","c":3,"v":-0.4},{"g":"UBE4B","c":4,"v":-1.3},{"g":"UBE4B","c":5,"v":-1.2},{"g":"UBE4B","c":6,"v":-1},{"g":"UBE4B","c":7,"v":0.6},{"g":"UBE4B","c":8,"v":0.4},{"g":"UBE4B","c":9,"v":0.5},{"g":"UBE4B","c":10,"v":-0.1},{"g":"UBE4B","c":11,"v":-0.1},{"g":"UBE4B","c":12,"v":-0.1},
{"g":"CSTF1","c":1,"v":-0.1},{"g":"CSTF1","c":2,"v":-0.2},{"g":"CSTF1","c":3,"v":-0.2},{"g":"CSTF1","c":4,"v":-1.1},{"g":"CSTF1","c":5,"v":-1.3},{"g":"CSTF1","c":6,"v":-1.2},{"g":"CSTF1","c":7,"v":0.7},{"g":"CSTF1","c":8,"v":0.5},{"g":"CSTF1","c":9,"v":0.5},{"g":"CSTF1","c":10,"v":-0.3},{"g":"CSTF1","c":11,"v":-0.3},{"g":"CSTF1","c":12,"v":-0.2},
{"g":"DHX32","c":1,"v":-0.2},{"g":"DHX32","c":2,"v":-0.2},{"g":"DHX32","c":3,"v":-0.1},{"g":"DHX32","c":4,"v":-0.8},{"g":"DHX32","c":5,"v":-0.9},{"g":"DHX32","c":6,"v":-0.9},{"g":"DHX32","c":7,"v":0.3},{"g":"DHX32","c":8,"v":0.3},{"g":"DHX32","c":9,"v":0.3},{"g":"DHX32","c":10,"v":-0.6},{"g":"DHX32","c":11,"v":-0.5},{"g":"DHX32","c":12,"v":-0.5},
{"g":"UBE2D2","c":1,"v":-0.2},{"g":"UBE2D2","c":2,"v":-0.1},{"g":"UBE2D2","c":3,"v":-0.1},{"g":"UBE2D2","c":4,"v":-0.8},{"g":"UBE2D2","c":5,"v":-0.6},{"g":"UBE2D2","c":6,"v":-0.6},{"g":"UBE2D2","c":7,"v":0.1},{"g":"UBE2D2","c":8,"v":0.4},{"g":"UBE2D2","c":9,"v":0.2},{"g":"UBE2D2","c":10,"v":-0.5},{"g":"UBE2D2","c":11,"v":-0.4},{"g":"UBE2D2","c":12,"v":-0.5},
{"g":"ARID1A","c":1,"v":0.1},{"g":"ARID1A","c":2,"v":-0.1},{"g":"ARID1A","c":3,"v":-0.1},{"g":"ARID1A","c":4,"v":-0.7},{"g":"ARID1A","c":5,"v":-1.1},{"g":"ARID1A","c":6,"v":-0.9},{"g":"ARID1A","c":7,"v":0.7},{"g":"ARID1A","c":8,"v":0.2},{"g":"ARID1A","c":9,"v":0.5},{"g":"ARID1A","c":10,"v":-0.2},{"g":"ARID1A","c":11,"v":-0.3},{"g":"ARID1A","c":12,"v":-0.3},
{"g":"CNOT11","c":1,"v":-0.1},{"g":"CNOT11","c":2,"v":-0.2},{"g":"CNOT11","c":3,"v":-0.1},{"g":"CNOT11","c":4,"v":-1.2},{"g":"CNOT11","c":5,"v":-0.9},{"g":"CNOT11","c":6,"v":-0.7},{"g":"CNOT11","c":7,"v":0.2},{"g":"CNOT11","c":8,"v":0.5},{"g":"CNOT11","c":9,"v":0.3},{"g":"CNOT11","c":10,"v":-0.5},{"g":"CNOT11","c":11,"v":-0.5},{"g":"CNOT11","c":12,"v":-0.4},
{"g":"EIF4B","c":1,"v":-0.1},{"g":"EIF4B","c":2,"v":0.2},{"g":"EIF4B","c":3,"v":0.1},{"g":"EIF4B","c":4,"v":-0.9},{"g":"EIF4B","c":5,"v":-0.9},{"g":"EIF4B","c":6,"v":-0.8},{"g":"EIF4B","c":7,"v":0.2},{"g":"EIF4B","c":8,"v":0.5},{"g":"EIF4B","c":9,"v":0.3},{"g":"EIF4B","c":10,"v":-0.4},{"g":"EIF4B","c":11,"v":-0.4},{"g":"EIF4B","c":12,"v":-0.4},
{"g":"HNRNPF","c":1,"v":-0.2},{"g":"HNRNPF","c":2,"v":0.1},{"g":"HNRNPF","c":3,"v":-0.1},{"g":"HNRNPF","c":4,"v":-0.9},{"g":"HNRNPF","c":5,"v":-0.8},{"g":"HNRNPF","c":6,"v":-1},{"g":"HNRNPF","c":7,"v":0.2},{"g":"HNRNPF","c":8,"v":0.6},{"g":"HNRNPF","c":9,"v":0.3},{"g":"HNRNPF","c":10,"v":-0.2},{"g":"HNRNPF","c":11,"v":-0.2},{"g":"HNRNPF","c":12,"v":-0.2},
{"g":"NAV1","c":1,"v":-0.2},{"g":"NAV1","c":2,"v":-0.3},{"g":"NAV1","c":3,"v":-0.1},{"g":"NAV1","c":4,"v":-1.2},{"g":"NAV1","c":5,"v":-1},{"g":"NAV1","c":6,"v":-1.2},{"g":"NAV1","c":7,"v":0.1},{"g":"NAV1","c":8,"v":0.6},{"g":"NAV1","c":9,"v":0.6},{"g":"NAV1","c":10,"v":-0.4},{"g":"NAV1","c":11,"v":-0.3},{"g":"NAV1","c":12,"v":-0.3},
{"g":"ELFN2","c":1,"v":-0.2},{"g":"ELFN2","c":2,"v":0},{"g":"ELFN2","c":3,"v":-0.1},{"g":"ELFN2","c":4,"v":-1.8},{"g":"ELFN2","c":5,"v":-1.1},{"g":"ELFN2","c":6,"v":-1.4},{"g":"ELFN2","c":7,"v":0.2},{"g":"ELFN2","c":8,"v":0.9},{"g":"ELFN2","c":9,"v":1},{"g":"ELFN2","c":10,"v":-0.3},{"g":"ELFN2","c":11,"v":-0.9},{"g":"ELFN2","c":12,"v":-0.5},
{"g":"HMGN2","c":1,"v":-0.3},{"g":"HMGN2","c":2,"v":-0.2},{"g":"HMGN2","c":3,"v":0.1},{"g":"HMGN2","c":4,"v":-1.9},{"g":"HMGN2","c":5,"v":-1.8},{"g":"HMGN2","c":6,"v":-2},{"g":"HMGN2","c":7,"v":-0.2},{"g":"HMGN2","c":8,"v":0.7},{"g":"HMGN2","c":9,"v":0.2},{"g":"HMGN2","c":10,"v":-0.7},{"g":"HMGN2","c":11,"v":-0.8},{"g":"HMGN2","c":12,"v":-0.8},
{"g":"SLC2A3","c":1,"v":0.7},{"g":"SLC2A3","c":2,"v":0.9},{"g":"SLC2A3","c":3,"v":0.6},{"g":"SLC2A3","c":4,"v":-2.7},{"g":"SLC2A3","c":5,"v":-2.7},{"g":"SLC2A3","c":6,"v":-3},{"g":"SLC2A3","c":7,"v":1},{"g":"SLC2A3","c":8,"v":0.4},{"g":"SLC2A3","c":9,"v":1.1},{"g":"SLC2A3","c":10,"v":-1.5},{"g":"SLC2A3","c":11,"v":-0.3},{"g":"SLC2A3","c":12,"v":-1.2},
{"g":"BCL3","c":1,"v":-0.1},{"g":"BCL3","c":2,"v":0.1},{"g":"BCL3","c":3,"v":1},{"g":"BCL3","c":4,"v":-2.7},{"g":"BCL3","c":5,"v":-2.6},{"g":"BCL3","c":6,"v":-2.7},{"g":"BCL3","c":7,"v":0.3},{"g":"BCL3","c":8,"v":1.3},{"g":"BCL3","c":9,"v":1},{"g":"BCL3","c":10,"v":-0.3},{"g":"BCL3","c":11,"v":-1.6},{"g":"BCL3","c":12,"v":-0.8},
{"g":"GALE","c":1,"v":1.4},{"g":"GALE","c":2,"v":0.6},{"g":"GALE","c":3,"v":1.4},{"g":"GALE","c":4,"v":-3.2},{"g":"GALE","c":5,"v":-3.2},{"g":"GALE","c":6,"v":-3.2},{"g":"GALE","c":7,"v":0.3},{"g":"GALE","c":8,"v":0.5},{"g":"GALE","c":9,"v":0.5},{"g":"GALE","c":10,"v":-0.3},{"g":"GALE","c":11,"v":-1},{"g":"GALE","c":12,"v":-0.5},
{"g":"NEMP1","c":1,"v":-0.2},{"g":"NEMP1","c":2,"v":1},{"g":"NEMP1","c":3,"v":-0.1},{"g":"NEMP1","c":4,"v":-3.1},{"g":"NEMP1","c":5,"v":-3.4},{"g":"NEMP1","c":6,"v":-3.2},{"g":"NEMP1","c":7,"v":2.6},{"g":"NEMP1","c":8,"v":1.7},{"g":"NEMP1","c":9,"v":2.7},{"g":"NEMP1","c":10,"v":-2.9},{"g":"NEMP1","c":11,"v":-2.6},{"g":"NEMP1","c":12,"v":-2.9},
{"g":"ERRFI1","c":1,"v":-0.3},{"g":"ERRFI1","c":2,"v":1},{"g":"ERRFI1","c":3,"v":0.2},{"g":"ERRFI1","c":4,"v":-3.2},{"g":"ERRFI1","c":5,"v":-3.4},{"g":"ERRFI1","c":6,"v":-3.1},{"g":"ERRFI1","c":7,"v":2.8},{"g":"ERRFI1","c":8,"v":1.4},{"g":"ERRFI1","c":9,"v":1.8},{"g":"ERRFI1","c":10,"v":-1.6},{"g":"ERRFI1","c":11,"v":-0.7},{"g":"ERRFI1","c":12,"v":-1.7},
{"g":"FAM3C","c":1,"v":-0.1},{"g":"FAM3C","c":2,"v":0},{"g":"FAM3C","c":3,"v":0.1},{"g":"FAM3C","c":4,"v":-1.9},{"g":"FAM3C","c":5,"v":-2.8},{"g":"FAM3C","c":6,"v":-1.9},{"g":"FAM3C","c":7,"v":3},{"g":"FAM3C","c":8,"v":0.4},{"g":"FAM3C","c":9,"v":1.2},{"g":"FAM3C","c":10,"v":-1.7},{"g":"FAM3C","c":11,"v":-1.2},{"g":"FAM3C","c":12,"v":-2},
{"g":"RTL3","c":1,"v":2.2},{"g":"RTL3","c":2,"v":4},{"g":"RTL3","c":3,"v":1.5},{"g":"RTL3","c":4,"v":-2},{"g":"RTL3","c":5,"v":-3},{"g":"RTL3","c":6,"v":-2},{"g":"RTL3","c":7,"v":1},{"g":"RTL3","c":8,"v":-0.8},{"g":"RTL3","c":9,"v":-0.5},{"g":"RTL3","c":10,"v":-4.2},{"g":"RTL3","c":11,"v":-3.8},{"g":"RTL3","c":12,"v":-3.7},
{"g":"TMCO4","c":1,"v":2},{"g":"TMCO4","c":2,"v":2.4},{"g":"TMCO4","c":3,"v":1.2},{"g":"TMCO4","c":4,"v":-1.7},{"g":"TMCO4","c":5,"v":-1.8},{"g":"TMCO4","c":6,"v":-1.7},{"g":"TMCO4","c":7,"v":-0.2},{"g":"TMCO4","c":8,"v":-0.4},{"g":"TMCO4","c":9,"v":-0.3},{"g":"TMCO4","c":10,"v":-1.5},{"g":"TMCO4","c":11,"v":-1.7},{"g":"TMCO4","c":12,"v":-2},
{"g":"P3H4","c":1,"v":2.6},{"g":"P3H4","c":2,"v":3},{"g":"P3H4","c":3,"v":2},{"g":"P3H4","c":4,"v":-1.4},{"g":"P3H4","c":5,"v":-1.6},{"g":"P3H4","c":6,"v":-1.3},{"g":"P3H4","c":7,"v":-0.3},{"g":"P3H4","c":8,"v":-0.6},{"g":"P3H4","c":9,"v":-0.2},{"g":"P3H4","c":10,"v":-1.6},{"g":"P3H4","c":11,"v":-1.5},{"g":"P3H4","c":12,"v":-2},
{"g":"PMP22","c":1,"v":2},{"g":"PMP22","c":2,"v":2.3},{"g":"PMP22","c":3,"v":2},{"g":"PMP22","c":4,"v":-1},{"g":"PMP22","c":5,"v":-0.8},{"g":"PMP22","c":6,"v":-0.9},{"g":"PMP22","c":7,"v":-0.8},{"g":"PMP22","c":8,"v":-0.7},{"g":"PMP22","c":9,"v":-0.5},{"g":"PMP22","c":10,"v":-1.5},{"g":"PMP22","c":11,"v":-1.6},{"g":"PMP22","c":12,"v":-1.7},
{"g":"SMIM3","c":1,"v":1.5},{"g":"SMIM3","c":2,"v":2},{"g":"SMIM3","c":3,"v":1.9},{"g":"SMIM3","c":4,"v":-0.8},{"g":"SMIM3","c":5,"v":-0.7},{"g":"SMIM3","c":6,"v":-0.8},{"g":"SMIM3","c":7,"v":-0.9},{"g":"SMIM3","c":8,"v":-0.7},{"g":"SMIM3","c":9,"v":-0.5},{"g":"SMIM3","c":10,"v":-1.5},{"g":"SMIM3","c":11,"v":-1.5},{"g":"SMIM3","c":12,"v":-1.6},
{"g":"ALDH18A1","c":1,"v":2},{"g":"ALDH18A1","c":2,"v":1.9},{"g":"ALDH18A1","c":3,"v":1.7},{"g":"ALDH18A1","c":4,"v":-1},{"g":"ALDH18A1","c":5,"v":-0.9},{"g":"ALDH18A1","c":6,"v":-0.8},{"g":"ALDH18A1","c":7,"v":-0.7},{"g":"ALDH18A1","c":8,"v":-0.6},{"g":"ALDH18A1","c":9,"v":-0.5},{"g":"ALDH18A1","c":10,"v":-1.3},{"g":"ALDH18A1","c":11,"v":-1.6},{"g":"ALDH18A1","c":12,"v":-1.5},
{"g":"POM121C","c":1,"v":1.7},{"g":"POM121C","c":2,"v":1.6},{"g":"POM121C","c":3,"v":1.5},{"g":"POM121C","c":4,"v":-1},{"g":"POM121C","c":5,"v":-0.8},{"g":"POM121C","c":6,"v":-0.9},{"g":"POM121C","c":7,"v":-0.8},{"g":"POM121C","c":8,"v":-0.6},{"g":"POM121C","c":9,"v":-0.5},{"g":"POM121C","c":10,"v":-1.2},{"g":"POM121C","c":11,"v":-1.6},{"g":"POM121C","c":12,"v":-1.3},
{"g":"POM121","c":1,"v":1.7},{"g":"POM121","c":2,"v":1.5},{"g":"POM121","c":3,"v":1.4},{"g":"POM121","c":4,"v":-1},{"g":"POM121","c":5,"v":-0.7},{"g":"POM121","c":6,"v":-0.7},{"g":"POM121","c":7,"v":-0.7},{"g":"POM121","c":8,"v":-0.6},{"g":"POM121","c":9,"v":-0.5},{"g":"POM121","c":10,"v":-1.2},{"g":"POM121","c":11,"v":-1.5},{"g":"POM121","c":12,"v":-1.4},
{"g":"TLE3","c":1,"v":1.6},{"g":"TLE3","c":2,"v":1.2},{"g":"TLE3","c":3,"v":1.4},{"g":"TLE3","c":4,"v":-0.9},{"g":"TLE3","c":5,"v":-0.8},{"g":"TLE3","c":6,"v":-0.9},{"g":"TLE3","c":7,"v":-0.8},{"g":"TLE3","c":8,"v":-0.7},{"g":"TLE3","c":9,"v":-0.5},{"g":"TLE3","c":10,"v":-1.1},{"g":"TLE3","c":11,"v":-1.4},{"g":"TLE3","c":12,"v":-1.1},
{"g":"AXL","c":1,"v":1.5},{"g":"AXL","c":2,"v":1},{"g":"AXL","c":3,"v":1.2},{"g":"AXL","c":4,"v":-1},{"g":"AXL","c":5,"v":-1.1},{"g":"AXL","c":6,"v":-1},{"g":"AXL","c":7,"v":-0.8},{"g":"AXL","c":8,"v":-0.8},{"g":"AXL","c":9,"v":-0.6},{"g":"AXL","c":10,"v":-1.5},{"g":"AXL","c":11,"v":-1.7},{"g":"AXL","c":12,"v":-1.4},
{"g":"FAM13A","c":1,"v":-0.2},{"g":"FAM13A","c":2,"v":1.6},{"g":"FAM13A","c":3,"v":2.2},{"g":"FAM13A","c":4,"v":-0.5},{"g":"FAM13A","c":5,"v":-0.1},{"g":"FAM13A","c":6,"v":-0.2},{"g":"FAM13A","c":7,"v":-0.8},{"g":"FAM13A","c":8,"v":-0.5},{"g":"FAM13A","c":9,"v":-0.2},{"g":"FAM13A","c":10,"v":-2.8},{"g":"FAM13A","c":11,"v":-2},{"g":"FAM13A","c":12,"v":-2.7},
{"g":"PHF20","c":1,"v":0.4},{"g":"PHF20","c":2,"v":2.5},{"g":"PHF20","c":3,"v":1.2},{"g":"PHF20","c":4,"v":-1},{"g":"PHF20","c":5,"v":-0.9},{"g":"PHF20","c":6,"v":-0.6},{"g":"PHF20","c":7,"v":-1},{"g":"PHF20","c":8,"v":-0.7},{"g":"PHF20","c":9,"v":-0.3},{"g":"PHF20","c":10,"v":-3},{"g":"PHF20","c":11,"v":-2},{"g":"PHF20","c":12,"v":-2.8},
{"g":"ZEB2","c":1,"v":0.3},{"g":"ZEB2","c":2,"v":0.6},{"g":"ZEB2","c":3,"v":1},{"g":"ZEB2","c":4,"v":-0.5},{"g":"ZEB2","c":5,"v":-1},{"g":"ZEB2","c":6,"v":-0.6},{"g":"ZEB2","c":7,"v":-1},{"g":"ZEB2","c":8,"v":-0.7},{"g":"ZEB2","c":9,"v":-0.5},{"g":"ZEB2","c":10,"v":-2.8},{"g":"ZEB2","c":11,"v":-1.9},{"g":"ZEB2","c":12,"v":-2.8},
{"g":"CCDC115","c":1,"v":-0.2},{"g":"CCDC115","c":2,"v":0.2},{"g":"CCDC115","c":3,"v":0.8},{"g":"CCDC115","c":4,"v":-0.3},{"g":"CCDC115","c":5,"v":-0.2},{"g":"CCDC115","c":6,"v":-0.1},{"g":"CCDC115","c":7,"v":-0.5},{"g":"CCDC115","c":8,"v":-0.5},{"g":"CCDC115","c":9,"v":-0.1},{"g":"CCDC115","c":10,"v":-0.9},{"g":"CCDC115","c":11,"v":-1.6},{"g":"CCDC115","c":12,"v":-1.2},
{"g":"UBE3B","c":1,"v":0.8},{"g":"UBE3B","c":2,"v":-0.1},{"g":"UBE3B","c":3,"v":0.7},{"g":"UBE3B","c":4,"v":-0.1},{"g":"UBE3B","c":5,"v":-0.2},{"g":"UBE3B","c":6,"v":-0.2},{"g":"UBE3B","c":7,"v":-0.6},{"g":"UBE3B","c":8,"v":-0.5},{"g":"UBE3B","c":9,"v":-0.1},{"g":"UBE3B","c":10,"v":-1.2},{"g":"UBE3B","c":11,"v":-1.7},{"g":"UBE3B","c":12,"v":-1.2},
{"g":"ARHGAP35","c":1,"v":0.1},{"g":"ARHGAP35","c":2,"v":1},{"g":"ARHGAP35","c":3,"v":0.8},{"g":"ARHGAP35","c":4,"v":-0.3},{"g":"ARHGAP35","c":5,"v":-0.3},{"g":"ARHGAP35","c":6,"v":-0.2},{"g":"ARHGAP35","c":7,"v":-0.6},{"g":"ARHGAP35","c":8,"v":-0.5},{"g":"ARHGAP35","c":9,"v":-0.2},{"g":"ARHGAP35","c":10,"v":-1.3},{"g":"ARHGAP35","c":11,"v":-1.6},{"g":"ARHGAP35","c":12,"v":-1.3},
{"g":"TMEM94","c":1,"v":0.3},{"g":"TMEM94","c":2,"v":1.1},{"g":"TMEM94","c":3,"v":0.9},{"g":"TMEM94","c":4,"v":-0.2},{"g":"TMEM94","c":5,"v":-0.3},{"g":"TMEM94","c":6,"v":-0.2},{"g":"TMEM94","c":7,"v":-0.6},{"g":"TMEM94","c":8,"v":-0.5},{"g":"TMEM94","c":9,"v":-0.2},{"g":"TMEM94","c":10,"v":-1.6},{"g":"TMEM94","c":11,"v":-1.7},{"g":"TMEM94","c":12,"v":-1.4},
{"g":"INSIG1","c":1,"v":0.3},{"g":"INSIG1","c":2,"v":1.6},{"g":"INSIG1","c":3,"v":0.8},{"g":"INSIG1","c":4,"v":-0.2},{"g":"INSIG1","c":5,"v":-0.2},{"g":"INSIG1","c":6,"v":-0.1},{"g":"INSIG1","c":7,"v":-0.8},{"g":"INSIG1","c":8,"v":-0.3},{"g":"INSIG1","c":9,"v":-0.5},{"g":"INSIG1","c":10,"v":-2.4},{"g":"INSIG1","c":11,"v":-1.8},{"g":"INSIG1","c":12,"v":-1.5},
{"g":"TBC1D2B","c":1,"v":1.5},{"g":"TBC1D2B","c":2,"v":1},{"g":"TBC1D2B","c":3,"v":1},{"g":"TBC1D2B","c":4,"v":-0.4},{"g":"TBC1D2B","c":5,"v":-0.3},{"g":"TBC1D2B","c":6,"v":-0.1},{"g":"TBC1D2B","c":7,"v":-1},{"g":"TBC1D2B","c":8,"v":-0.5},{"g":"TBC1D2B","c":9,"v":-0.8},{"g":"TBC1D2B","c":10,"v":-2.1},{"g":"TBC1D2B","c":11,"v":-1.8},{"g":"TBC1D2B","c":12,"v":-1.8},
{"g":"CELSR2","c":1,"v":1.6},{"g":"CELSR2","c":2,"v":1},{"g":"CELSR2","c":3,"v":1.1},{"g":"CELSR2","c":4,"v":-0.3},{"g":"CELSR2","c":5,"v":-0.3},{"g":"CELSR2","c":6,"v":0},{"g":"CELSR2","c":7,"v":-0.9},{"g":"CELSR2","c":8,"v":-0.8},{"g":"CELSR2","c":9,"v":-0.7},{"g":"CELSR2","c":10,"v":-1.7},{"g":"CELSR2","c":11,"v":-1.8},{"g":"CELSR2","c":12,"v":-1.6},
{"g":"CITED2","c":1,"v":1.4},{"g":"CITED2","c":2,"v":0.8},{"g":"CITED2","c":3,"v":1.7},{"g":"CITED2","c":4,"v":-0.5},{"g":"CITED2","c":5,"v":-0.4},{"g":"CITED2","c":6,"v":-0.2},{"g":"CITED2","c":7,"v":-0.8},{"g":"CITED2","c":8,"v":-0.7},{"g":"CITED2","c":9,"v":-0.5},{"g":"CITED2","c":10,"v":-1.6},{"g":"CITED2","c":11,"v":-1.7},{"g":"CITED2","c":12,"v":-1.5},
{"g":"NCOA5","c":1,"v":1.7},{"g":"NCOA5","c":2,"v":1.6},{"g":"NCOA5","c":3,"v":1.8},{"g":"NCOA5","c":4,"v":-1},{"g":"NCOA5","c":5,"v":-0.6},{"g":"NCOA5","c":6,"v":-0.8},{"g":"NCOA5","c":7,"v":-0.6},{"g":"NCOA5","c":8,"v":-0.4},{"g":"NCOA5","c":9,"v":-0.3},{"g":"NCOA5","c":10,"v":-1.5},{"g":"NCOA5","c":11,"v":-1.5},{"g":"NCOA5","c":12,"v":-1.5},
{"g":"MAML1","c":1,"v":-0.1},{"g":"MAML1","c":2,"v":0.1},{"g":"MAML1","c":3,"v":-0.1},{"g":"MAML1","c":4,"v":-0.2},{"g":"MAML1","c":5,"v":-0.1},{"g":"MAML1","c":6,"v":-0.2},{"g":"MAML1","c":7,"v":0.1},{"g":"MAML1","c":8,"v":-0.2},{"g":"MAML1","c":9,"v":0.2},{"g":"MAML1","c":10,"v":-0.4},{"g":"MAML1","c":11,"v":-0.6},{"g":"MAML1","c":12,"v":-0.8},
{"g":"SIK3","c":1,"v":-0.1},{"g":"SIK3","c":2,"v":0.1},{"g":"SIK3","c":3,"v":0.1},{"g":"SIK3","c":4,"v":-0.4},{"g":"SIK3","c":5,"v":-0.3},{"g":"SIK3","c":6,"v":-0.3},{"g":"SIK3","c":7,"v":-0.1},{"g":"SIK3","c":8,"v":-0.2},{"g":"SIK3","c":9,"v":-0.1},{"g":"SIK3","c":10,"v":-0.4},{"g":"SIK3","c":11,"v":-0.2},{"g":"SIK3","c":12,"v":-0.6},
{"g":"CTPS2","c":1,"v":0.1},{"g":"CTPS2","c":2,"v":0},{"g":"CTPS2","c":3,"v":0.7},{"g":"CTPS2","c":4,"v":-0.7},{"g":"CTPS2","c":5,"v":-0.6},{"g":"CTPS2","c":6,"v":-0.7},{"g":"CTPS2","c":7,"v":-0.1},{"g":"CTPS2","c":8,"v":-0.2},{"g":"CTPS2","c":9,"v":0.1},{"g":"CTPS2","c":10,"v":-0.4},{"g":"CTPS2","c":11,"v":-0.4},{"g":"CTPS2","c":12,"v":-0.5},
{"g":"BCOR","c":1,"v":0.6},{"g":"BCOR","c":2,"v":-0.1},{"g":"BCOR","c":3,"v":0.7},{"g":"BCOR","c":4,"v":-1},{"g":"BCOR","c":5,"v":-0.8},{"g":"BCOR","c":6,"v":-1.1},{"g":"BCOR","c":7,"v":0.2},{"g":"BCOR","c":8,"v":0.1},{"g":"BCOR","c":9,"v":-0.1},{"g":"BCOR","c":10,"v":-0.7},{"g":"BCOR","c":11,"v":-0.5},{"g":"BCOR","c":12,"v":-0.6},
{"g":"SRPRB","c":1,"v":0.2},{"g":"SRPRB","c":2,"v":0.2},{"g":"SRPRB","c":3,"v":0.4},{"g":"SRPRB","c":4,"v":-0.8},{"g":"SRPRB","c":5,"v":-0.7},{"g":"SRPRB","c":6,"v":-0.5},{"g":"SRPRB","c":7,"v":0.2},{"g":"SRPRB","c":8,"v":0.6},{"g":"SRPRB","c":9,"v":0.2},{"g":"SRPRB","c":10,"v":-0.8},{"g":"SRPRB","c":11,"v":-0.5},{"g":"SRPRB","c":12,"v":-0.8},
{"g":"PRKCE","c":1,"v":0.1},{"g":"PRKCE","c":2,"v":0.5},{"g":"PRKCE","c":3,"v":0.7},{"g":"PRKCE","c":4,"v":-1.4},{"g":"PRKCE","c":5,"v":-1.2},{"g":"PRKCE","c":6,"v":-1.1},{"g":"PRKCE","c":7,"v":0.5},{"g":"PRKCE","c":8,"v":0.8},{"g":"PRKCE","c":9,"v":0.1},{"g":"PRKCE","c":10,"v":-1.4},{"g":"PRKCE","c":11,"v":-1.4},{"g":"PRKCE","c":12,"v":-0.8},
{"g":"SLC6A6","c":1,"v":-0.1},{"g":"SLC6A6","c":2,"v":0.3},{"g":"SLC6A6","c":3,"v":0.3},{"g":"SLC6A6","c":4,"v":-1.4},{"g":"SLC6A6","c":5,"v":-1},{"g":"SLC6A6","c":6,"v":-0.4},{"g":"SLC6A6","c":7,"v":0.8},{"g":"SLC6A6","c":8,"v":0.4},{"g":"SLC6A6","c":9,"v":0.8},{"g":"SLC6A6","c":10,"v":-1.5},{"g":"SLC6A6","c":11,"v":-1.2},{"g":"SLC6A6","c":12,"v":-1.7},
{"g":"VASN","c":1,"v":0},{"g":"VASN","c":2,"v":0.3},{"g":"VASN","c":3,"v":1},{"g":"VASN","c":4,"v":-0.7},{"g":"VASN","c":5,"v":-0.8},{"g":"VASN","c":6,"v":-0.7},{"g":"VASN","c":7,"v":0.7},{"g":"VASN","c":8,"v":0.3},{"g":"VASN","c":9,"v":1.5},{"g":"VASN","c":10,"v":-1},{"g":"VASN","c":11,"v":-2},{"g":"VASN","c":12,"v":-1},
{"g":"ITPR1","c":1,"v":2.4},{"g":"ITPR1","c":2,"v":3.2},{"g":"ITPR1","c":3,"v":3.6},{"g":"ITPR1","c":4,"v":-0.8},{"g":"ITPR1","c":5,"v":-1.9},{"g":"ITPR1","c":6,"v":-1},{"g":"ITPR1","c":7,"v":-1.3},{"g":"ITPR1","c":8,"v":-1},{"g":"ITPR1","c":9,"v":-1.1},{"g":"ITPR1","c":10,"v":-3.5},{"g":"ITPR1","c":11,"v":-2.8},{"g":"ITPR1","c":12,"v":-3.5},
{"g":"PCED1B","c":1,"v":2},{"g":"PCED1B","c":2,"v":3},{"g":"PCED1B","c":3,"v":3.2},{"g":"PCED1B","c":4,"v":-0.6},{"g":"PCED1B","c":5,"v":-0.9},{"g":"PCED1B","c":6,"v":-0.9},{"g":"PCED1B","c":7,"v":-1.2},{"g":"PCED1B","c":8,"v":-1.8},{"g":"PCED1B","c":9,"v":-1.3},{"g":"PCED1B","c":10,"v":-3},{"g":"PCED1B","c":11,"v":-3.5},{"g":"PCED1B","c":12,"v":-3},
{"g":"FUT11","c":1,"v":2.5},{"g":"FUT11","c":2,"v":2.6},{"g":"FUT11","c":3,"v":3},{"g":"FUT11","c":4,"v":-0.8},{"g":"FUT11","c":5,"v":-1},{"g":"FUT11","c":6,"v":-0.6},{"g":"FUT11","c":7,"v":-1.2},{"g":"FUT11","c":8,"v":-1},{"g":"FUT11","c":9,"v":-1},{"g":"FUT11","c":10,"v":-3},{"g":"FUT11","c":11,"v":-3.6},{"g":"FUT11","c":12,"v":-2.9},
{"g":"ZNF395","c":1,"v":1.8},{"g":"ZNF395","c":2,"v":2.4},{"g":"ZNF395","c":3,"v":3},{"g":"ZNF395","c":4,"v":-0.4},{"g":"ZNF395","c":5,"v":-0.9},{"g":"ZNF395","c":6,"v":-0.6},{"g":"ZNF395","c":7,"v":-1.5},{"g":"ZNF395","c":8,"v":-1},{"g":"ZNF395","c":9,"v":-1.1},{"g":"ZNF395","c":10,"v":-2.8},{"g":"ZNF395","c":11,"v":-2.8},{"g":"ZNF395","c":12,"v":-2.8},
{"g":"APOL1","c":1,"v":3},{"g":"APOL1","c":2,"v":2.8},{"g":"APOL1","c":3,"v":3},{"g":"APOL1","c":4,"v":-0.2},{"g":"APOL1","c":5,"v":-0.2},{"g":"APOL1","c":6,"v":-0.5},{"g":"APOL1","c":7,"v":-2.9},{"g":"APOL1","c":8,"v":-2.3},{"g":"APOL1","c":9,"v":-2.6},{"g":"APOL1","c":10,"v":-3},{"g":"APOL1","c":11,"v":-2.9},{"g":"APOL1","c":12,"v":-3},
{"g":"GALNT2","c":1,"v":2.5},{"g":"GALNT2","c":2,"v":3.2},{"g":"GALNT2","c":3,"v":3.1},{"g":"GALNT2","c":4,"v":-0.7},{"g":"GALNT2","c":5,"v":-0.5},{"g":"GALNT2","c":6,"v":-0.5},{"g":"GALNT2","c":7,"v":-2.5},{"g":"GALNT2","c":8,"v":-2.5},{"g":"GALNT2","c":9,"v":-2.3},{"g":"GALNT2","c":10,"v":-3.2},{"g":"GALNT2","c":11,"v":-2.9},{"g":"GALNT2","c":12,"v":-3},
{"g":"MEF2D","c":1,"v":3.5},{"g":"MEF2D","c":2,"v":3.2},{"g":"MEF2D","c":3,"v":3.3},{"g":"MEF2D","c":4,"v":-1.1},{"g":"MEF2D","c":5,"v":-0.9},{"g":"MEF2D","c":6,"v":-0.8},{"g":"MEF2D","c":7,"v":-2.4},{"g":"MEF2D","c":8,"v":-2.7},{"g":"MEF2D","c":9,"v":-2.4},{"g":"MEF2D","c":10,"v":-3.5},{"g":"MEF2D","c":11,"v":-3.1},{"g":"MEF2D","c":12,"v":-3.6},
{"g":"TCAF2","c":1,"v":3.9},{"g":"TCAF2","c":2,"v":3.2},{"g":"TCAF2","c":3,"v":2.3},{"g":"TCAF2","c":4,"v":-1},{"g":"TCAF2","c":5,"v":-0.6},{"g":"TCAF2","c":6,"v":-0.8},{"g":"TCAF2","c":7,"v":-2.5},{"g":"TCAF2","c":8,"v":-1.5},{"g":"TCAF2","c":9,"v":-2.5},{"g":"TCAF2","c":10,"v":-3},{"g":"TCAF2","c":11,"v":-3.7},{"g":"TCAF2","c":12,"v":-3},
{"g":"DDIT4","c":1,"v":3.4},{"g":"DDIT4","c":2,"v":3.3},{"g":"DDIT4","c":3,"v":3.8},{"g":"DDIT4","c":4,"v":-0.9},{"g":"DDIT4","c":5,"v":-0.6},{"g":"DDIT4","c":6,"v":-0.9},{"g":"DDIT4","c":7,"v":-3.2},{"g":"DDIT4","c":8,"v":-2.7},{"g":"DDIT4","c":9,"v":-2.8},{"g":"DDIT4","c":10,"v":-4},{"g":"DDIT4","c":11,"v":-4},{"g":"DDIT4","c":12,"v":-3.6},
{"g":"SEMA6A","c":1,"v":1.5},{"g":"SEMA6A","c":2,"v":3.3},{"g":"SEMA6A","c":3,"v":3.7},{"g":"SEMA6A","c":4,"v":0.5},{"g":"SEMA6A","c":5,"v":0.4},{"g":"SEMA6A","c":6,"v":0},{"g":"SEMA6A","c":7,"v":-1.6},{"g":"SEMA6A","c":8,"v":-2},{"g":"SEMA6A","c":9,"v":-1.7},{"g":"SEMA6A","c":10,"v":-4.2},{"g":"SEMA6A","c":11,"v":-3.7},{"g":"SEMA6A","c":12,"v":-4.1},
{"g":"CA12","c":1,"v":1.8},{"g":"CA12","c":2,"v":3},{"g":"CA12","c":3,"v":2.2},{"g":"CA12","c":4,"v":1},{"g":"CA12","c":5,"v":1},{"g":"CA12","c":6,"v":0.9},{"g":"CA12","c":7,"v":-2.8},{"g":"CA12","c":8,"v":-2.6},{"g":"CA12","c":9,"v":-2.8},{"g":"CA12","c":10,"v":-3.2},{"g":"CA12","c":11,"v":-3},{"g":"CA12","c":12,"v":-3},
{"g":"LDLRAD3","c":1,"v":2.4},{"g":"LDLRAD3","c":2,"v":1.9},{"g":"LDLRAD3","c":3,"v":1.6},{"g":"LDLRAD3","c":4,"v":0.2},{"g":"LDLRAD3","c":5,"v":0.3},{"g":"LDLRAD3","c":6,"v":0.3},{"g":"LDLRAD3","c":7,"v":-2.6},{"g":"LDLRAD3","c":8,"v":-1.7},{"g":"LDLRAD3","c":9,"v":-1.7},{"g":"LDLRAD3","c":10,"v":-3.8},{"g":"LDLRAD3","c":11,"v":-3.3},{"g":"LDLRAD3","c":12,"v":-3},
{"g":"SLC2A5","c":1,"v":1},{"g":"SLC2A5","c":2,"v":2.7},{"g":"SLC2A5","c":3,"v":1.5},{"g":"SLC2A5","c":4,"v":-0.1},{"g":"SLC2A5","c":5,"v":-0.1},{"g":"SLC2A5","c":6,"v":0.6},{"g":"SLC2A5","c":7,"v":-2.6},{"g":"SLC2A5","c":8,"v":-1},{"g":"SLC2A5","c":9,"v":-1.3},{"g":"SLC2A5","c":10,"v":-3.8},{"g":"SLC2A5","c":11,"v":-3},{"g":"SLC2A5","c":12,"v":-3},
{"g":"ARSB","c":1,"v":1.5},{"g":"ARSB","c":2,"v":2.2},{"g":"ARSB","c":3,"v":1.1},{"g":"ARSB","c":4,"v":-0.2},{"g":"ARSB","c":5,"v":-0.4},{"g":"ARSB","c":6,"v":-0.2},{"g":"ARSB","c":7,"v":-0.2},{"g":"ARSB","c":8,"v":-1.3},{"g":"ARSB","c":9,"v":-0.3},{"g":"ARSB","c":10,"v":-3.2},{"g":"ARSB","c":11,"v":-3},{"g":"ARSB","c":12,"v":-2.9},
{"g":"PGRMC1","c":1,"v":0.9},{"g":"PGRMC1","c":2,"v":2.4},{"g":"PGRMC1","c":3,"v":1.4},{"g":"PGRMC1","c":4,"v":-0.1},{"g":"PGRMC1","c":5,"v":-0.1},{"g":"PGRMC1","c":6,"v":-0.1},{"g":"PGRMC1","c":7,"v":-0.9},{"g":"PGRMC1","c":8,"v":-1.2},{"g":"PGRMC1","c":9,"v":-0.8},{"g":"PGRMC1","c":10,"v":-3.4},{"g":"PGRMC1","c":11,"v":-3.4},{"g":"PGRMC1","c":12,"v":-3},
{"g":"TMEM273","c":1,"v":0.6},{"g":"TMEM273","c":2,"v":1.7},{"g":"TMEM273","c":3,"v":2.1},{"g":"TMEM273","c":4,"v":-0.1},{"g":"TMEM273","c":5,"v":-0.2},{"g":"TMEM273","c":6,"v":-0.1},{"g":"TMEM273","c":7,"v":-0.9},{"g":"TMEM273","c":8,"v":-1.1},{"g":"TMEM273","c":9,"v":-0.8},{"g":"TMEM273","c":10,"v":-3.1},{"g":"TMEM273","c":11,"v":-2.9},{"g":"TMEM273","c":12,"v":-3.2},
{"g":"TACC1","c":1,"v":0.8},{"g":"TACC1","c":2,"v":1.9},{"g":"TACC1","c":3,"v":1.5},{"g":"TACC1","c":4,"v":-0.1},{"g":"TACC1","c":5,"v":-0.1},{"g":"TACC1","c":6,"v":0.6},{"g":"TACC1","c":7,"v":-1.1},{"g":"TACC1","c":8,"v":-1.3},{"g":"TACC1","c":9,"v":-1.1},{"g":"TACC1","c":10,"v":-2.9},{"g":"TACC1","c":11,"v":-2.3},{"g":"TACC1","c":12,"v":-3.3},
{"g":"LPCAT1","c":1,"v":1.4},{"g":"LPCAT1","c":2,"v":1.9},{"g":"LPCAT1","c":3,"v":1.1},{"g":"LPCAT1","c":4,"v":0.4},{"g":"LPCAT1","c":5,"v":0.1},{"g":"LPCAT1","c":6,"v":0.5},{"g":"LPCAT1","c":7,"v":-1.2},{"g":"LPCAT1","c":8,"v":-1.4},{"g":"LPCAT1","c":9,"v":-1.5},{"g":"LPCAT1","c":10,"v":-2.3},{"g":"LPCAT1","c":11,"v":-2.3},{"g":"LPCAT1","c":12,"v":-2.1},
{"g":"TGFA","c":1,"v":1.3},{"g":"TGFA","c":2,"v":1.4},{"g":"TGFA","c":3,"v":1.1},{"g":"TGFA","c":4,"v":0.4},{"g":"TGFA","c":5,"v":0.4},{"g":"TGFA","c":6,"v":0.5},{"g":"TGFA","c":7,"v":-1.3},{"g":"TGFA","c":8,"v":-1.5},{"g":"TGFA","c":9,"v":-1.5},{"g":"TGFA","c":10,"v":-2},{"g":"TGFA","c":11,"v":-2.3},{"g":"TGFA","c":12,"v":-2.1},
{"g":"ADAMTS15","c":1,"v":4.3},{"g":"ADAMTS15","c":2,"v":4.5},{"g":"ADAMTS15","c":3,"v":4},{"g":"ADAMTS15","c":4,"v":-2.5},{"g":"ADAMTS15","c":5,"v":-2.4},{"g":"ADAMTS15","c":6,"v":-2.3},{"g":"ADAMTS15","c":7,"v":-4.2},{"g":"ADAMTS15","c":8,"v":-4.2},{"g":"ADAMTS15","c":9,"v":-4},{"g":"ADAMTS15","c":10,"v":-4.6},{"g":"ADAMTS15","c":11,"v":-4.5},{"g":"ADAMTS15","c":12,"v":-4.7},
{"g":"RASSF10","c":1,"v":2.5},{"g":"RASSF10","c":2,"v":4.6},{"g":"RASSF10","c":3,"v":3.9},{"g":"RASSF10","c":4,"v":-0.5},{"g":"RASSF10","c":5,"v":-0.3},{"g":"RASSF10","c":6,"v":-0.9},{"g":"RASSF10","c":7,"v":-4.1},{"g":"RASSF10","c":8,"v":-4.1},{"g":"RASSF10","c":9,"v":-4},{"g":"RASSF10","c":10,"v":-4.7},{"g":"RASSF10","c":11,"v":-4.6},{"g":"RASSF10","c":12,"v":-4.6},
{"g":"HES1","c":1,"v":3.3},{"g":"HES1","c":2,"v":2.4},{"g":"HES1","c":3,"v":3.5},{"g":"HES1","c":4,"v":-0.1},{"g":"HES1","c":5,"v":-0.2},{"g":"HES1","c":6,"v":0.2},{"g":"HES1","c":7,"v":-3.8},{"g":"HES1","c":8,"v":-4},{"g":"HES1","c":9,"v":-3.8},{"g":"HES1","c":10,"v":-4.1},{"g":"HES1","c":11,"v":-4.2},{"g":"HES1","c":12,"v":-4.1},
{"g":"CTSO","c":1,"v":2},{"g":"CTSO","c":2,"v":2.3},{"g":"CTSO","c":3,"v":3.4},{"g":"CTSO","c":4,"v":1},{"g":"CTSO","c":5,"v":0.8},{"g":"CTSO","c":6,"v":0.4},{"g":"CTSO","c":7,"v":-4.2},{"g":"CTSO","c":8,"v":-4},{"g":"CTSO","c":9,"v":-3.8},{"g":"CTSO","c":10,"v":-4.6},{"g":"CTSO","c":11,"v":-4.3},{"g":"CTSO","c":12,"v":-4.4},
{"g":"PPP1R3B","c":1,"v":1.7},{"g":"PPP1R3B","c":2,"v":3.8},{"g":"PPP1R3B","c":3,"v":2.6},{"g":"PPP1R3B","c":4,"v":0.4},{"g":"PPP1R3B","c":5,"v":0.2},{"g":"PPP1R3B","c":6,"v":0.4},{"g":"PPP1R3B","c":7,"v":-4.1},{"g":"PPP1R3B","c":8,"v":-4},{"g":"PPP1R3B","c":9,"v":-3.8},{"g":"PPP1R3B","c":10,"v":-4.4},{"g":"PPP1R3B","c":11,"v":-4.3},{"g":"PPP1R3B","c":12,"v":-4.5},
{"g":"FAM107A","c":1,"v":3.6},{"g":"FAM107A","c":2,"v":2.7},{"g":"FAM107A","c":3,"v":1.5},{"g":"FAM107A","c":4,"v":1},{"g":"FAM107A","c":5,"v":0.9},{"g":"FAM107A","c":6,"v":0.1},{"g":"FAM107A","c":7,"v":-4.6},{"g":"FAM107A","c":8,"v":-4.4},{"g":"FAM107A","c":9,"v":-4.4},{"g":"FAM107A","c":10,"v":-4.7},{"g":"FAM107A","c":11,"v":-4.5},{"g":"FAM107A","c":12,"v":-4.7},
{"g":"PGBD5","c":1,"v":2.7},{"g":"PGBD5","c":2,"v":2.5},{"g":"PGBD5","c":3,"v":1.7},{"g":"PGBD5","c":4,"v":0.9},{"g":"PGBD5","c":5,"v":1.1},{"g":"PGBD5","c":6,"v":0.6},{"g":"PGBD5","c":7,"v":-4.2},{"g":"PGBD5","c":8,"v":-4.2},{"g":"PGBD5","c":9,"v":-4},{"g":"PGBD5","c":10,"v":-4.6},{"g":"PGBD5","c":11,"v":-4.3},{"g":"PGBD5","c":12,"v":-4.5},
{"g":"EDN2","c":1,"v":2.6},{"g":"EDN2","c":2,"v":4.2},{"g":"EDN2","c":3,"v":2.2},{"g":"EDN2","c":4,"v":0.5},{"g":"EDN2","c":5,"v":-0.1},{"g":"EDN2","c":6,"v":0.1},{"g":"EDN2","c":7,"v":-4.8},{"g":"EDN2","c":8,"v":-4.6},{"g":"EDN2","c":9,"v":-4.4},{"g":"EDN2","c":10,"v":-4.7},{"g":"EDN2","c":11,"v":-4.6},{"g":"EDN2","c":12,"v":-4.7},
{"g":"GPNMB","c":1,"v":1.4},{"g":"GPNMB","c":2,"v":3.9},{"g":"GPNMB","c":3,"v":2.4},{"g":"GPNMB","c":4,"v":0.9},{"g":"GPNMB","c":5,"v":-0.1},{"g":"GPNMB","c":6,"v":0.9},{"g":"GPNMB","c":7,"v":-4.6},{"g":"GPNMB","c":8,"v":-4.5},{"g":"GPNMB","c":9,"v":-4.3},{"g":"GPNMB","c":10,"v":-4.7},{"g":"GPNMB","c":11,"v":-4.7},{"g":"GPNMB","c":12,"v":-4.6}]
},
"vconcat":[
{"hconcat":[{"data":{"values":[]},"mark":"point","width":0,"height":0},{"vconcat":[{"data":{"values":[]},"mark":"point","width":0,"height":0},
{"width":200,"height":240,"layer":[
{"data":{"values":[{"set":"786-O","x":53.65,"y":51.5},{"set":"OS-RC-2","x":53.65,"y":83.15}]},"mark":{"type":"point","filled":true,"opacity":1,"blend":"multiply","size":10691,"shape":"M1,0C1,0.591,0.552,1.07,0,1.07C-0.552,1.07,-1,0.591,-1,0C-1,-0.591,-0.552,-1.07,0,-1.07C0.552,-1.07,1,-0.591,1,0Z"},"encoding":{"x":{"field":"x","type":"quantitative","scale":{"domain":[0,100]},"axis":null},"y":{"field":"y","type":"quantitative","scale":{"domain":[120,0]},"axis":null},"color":{"field":"set","scale":{"domain":["786-O","OS-RC-2"],"range":["#eeb4bc","#bfc2e0"]},"legend":null}}},
{"data":{"values":[{"t":"Down-regulated genes","x":53.7,"y":19.7}]},"mark":{"type":"text","baseline":"middle","align":"center","fontSize":11},"encoding":{"text":{"field":"t"},"x":{"field":"x","type":"quantitative","scale":{"domain":[0,100]},"axis":null},"y":{"field":"y","type":"quantitative","scale":{"domain":[120,0]},"axis":null}}},
{"data":{"values":[{"t":"786-O","x":20.3,"y":48.3},{"t":"OS-RC-2","x":16.5,"y":85.5},{"t":"1966","x":53.7,"y":48.3},{"t":"535","x":53.5,"y":68.7},{"t":"1485","x":53.7,"y":86.3}]},"mark":{"type":"text","baseline":"middle","align":"center","fontSize":9},"encoding":{"text":{"field":"t"},"x":{"field":"x","type":"quantitative","scale":{"domain":[0,100]},"axis":null},"y":{"field":"y","type":"quantitative","scale":{"domain":[120,0]},"axis":null}}}
]}],"spacing":0,"bounds":"flush"}],"spacing":0,"bounds":"flush"},
{"hconcat":[{"data":{"values":[]},"mark":"point","width":0,"height":0},{"vconcat":[{"data":{"values":[]},"mark":"point","width":0,"height":0},
{"width":200,"height":300,"layer":[
{"data":{"values":[{"set":"HIF2α binding","x":64.15,"y":70.25},{"set":"USP7 activation","x":64.15,"y":108.15}]},"mark":{"type":"point","filled":true,"opacity":1,"blend":"multiply","size":13924,"shape":"M1,0C1,0.591,0.552,1.07,0,1.07C-0.552,1.07,-1,0.591,-1,0C-1,-0.591,-0.552,-1.07,0,-1.07C0.552,-1.07,1,-0.591,1,0Z"},"encoding":{"x":{"field":"x","type":"quantitative","scale":{"domain":[0,100]},"axis":null},"y":{"field":"y","type":"quantitative","scale":{"domain":[150,0]},"axis":null},"color":{"field":"set","scale":{"domain":["HIF2α binding","USP7 activation"],"range":["#eeb4bc","#bfc2e0"]},"legend":null}}},
{"data":{"values":[{"t":"HIF2α binding","x":64.25,"y":33.75},{"t":"2893","x":64.15,"y":66.35},{"t":"116","x":64.15,"y":89.85},{"t":"419","x":64.15,"y":117.65},{"t":"USP7 activation","x":63.85,"y":145.5}]},"mark":{"type":"text","baseline":"middle","align":"center","fontSize":9},"encoding":{"text":{"field":"t"},"x":{"field":"x","type":"quantitative","scale":{"domain":[0,100]},"axis":null},"y":{"field":"y","type":"quantitative","scale":{"domain":[150,0]},"axis":null}}}
]}],"spacing":240,"bounds":"flush"}],"spacing":280,"bounds":"flush"},
{"hconcat":[{"data":{"values":[]},"mark":"point","width":0,"height":0},{"vconcat":[{"data":{"values":[]},"mark":"point","width":0,"height":0},
{"width":119,"height":200,"view":{"stroke":"#888","strokeWidth":1},"title":{"text":"Hallmark gene sets","offset":3.5,"dx":-1.5},
"data":{"values":[{"set":"M5901 G2M Checkpoint","ratio":0.229,"n":48,"p":3.11e-17},{"set":"M5891 Hypoxia","ratio":0.117,"n":25,"p":1e-6},{"set":"M5934 Xenobiotic metabolism","ratio":0.0975,"n":20,"p":4e-6},{"set":"M5922 unfolded protein response","ratio":0.125,"n":14.5,"p":1e-5},{"set":"M5893 mitotic spindle","ratio":0.077,"n":19,"p":1.5e-5},{"set":"M5898 DNA repair","ratio":0.094,"n":16,"p":1e-4},{"set":"M5935 fatty acid metabolism","ratio":0.085,"n":16,"p":1.1e-4},{"set":"M5924 MTORC1  signaling","ratio":0.067,"n":17.5,"p":2.9e-4},{"set":"M5939 P53 pathway","ratio":0.067,"n":17.5,"p":3e-4},{"set":"M5902  apoptosis","ratio":0.071,"n":14.5,"p":6e-4}]},
"mark":{"type":"circle","opacity":0.95},
"encoding":{"x":{"field":"ratio","type":"quantitative","scale":{"domain":[0.0346,0.2635],"nice":false,"zero":false},"axis":{"orient":"top","values":[0.05,0.1,0.15,0.2,0.25],"labels":false,"title":null,"grid":true,"gridColor":"#eeeeee","domain":false,"tickSize":2,"tickColor":"#555"}},
"y":{"field":"set","type":"nominal","sort":null,"scale":{"type":"point","padding":1.2},"axis":{"title":null,"grid":true,"gridColor":"#eeeeee","domain":false,"ticks":false,"labelPadding":3,"labelFontSize":8.7,"labelLimit":200,"labelColor":{"condition":{"test":"datum.value=='M5891 Hypoxia'","value":"#e8192c"},"value":"#555555"},"labelFontWeight":{"condition":{"test":"datum.value=='M5891 Hypoxia'","value":"bold"},"value":"normal"}}},
"size":{"field":"n","type":"quantitative","scale":{"domain":[10,25],"range":[28,100],"zero":false},"legend":null},
"color":{"field":"p","type":"quantitative","scale":{"domain":[0,0.00031,0.000619],"range":["#bb2030","#e9b59f","#3f2a2a"]},"legend":null}}}
],"spacing":27.7,"bounds":"flush"}],"spacing":322,"bounds":"flush"},
{"hconcat":[{"data":{"values":[]},"mark":"point","width":0,"height":0},{"vconcat":[{"data":{"values":[]},"mark":"point","width":0,"height":0},
{"width":1,"height":29.8,"data":{"values":[{"n":25},{"n":20},{"n":15},{"n":10}]},"layer":[{"mark":{"type":"circle","color":"#1a1010","opacity":1},"encoding":{"y":{"field":"n","type":"quantitative","scale":{"domain":[10,25],"nice":false,"zero":false},"axis":null},"size":{"field":"n","type":"quantitative","scale":{"domain":[10,25],"range":[28,100],"zero":false},"legend":null}}},{"mark":{"type":"text","align":"left","baseline":"middle","dx":9.5,"fontSize":9},"encoding":{"text":{"field":"n"},"y":{"field":"n","type":"quantitative","scale":{"domain":[10,25],"nice":false,"zero":false},"axis":null}}}]}
],"spacing":69.7,"bounds":"flush"}],"spacing":450,"bounds":"flush"},
{"hconcat":[{"data":{"values":[]},"mark":"point","width":0,"height":0},{"vconcat":[{"data":{"values":[]},"mark":"point","width":0,"height":0},{"width":0,"height":0,"data":{"values":[{"l":"Gene number"}]},"mark":{"type":"text","fontSize":9},"encoding":{"text":{"field":"l"}}}],"spacing":55.5,"bounds":"flush"}],"spacing":471,"bounds":"flush"},
{"hconcat":[{"data":{"values":[]},"mark":"point","width":0,"height":0},{"vconcat":[{"data":{"values":[]},"mark":"point","width":0,"height":0},
{"width":8,"height":43,"title":{"text":"p Value","anchor":"start","offset":9,"dx":-3,"fontSize":9,"frame":"group"},"data":{"values":[{"lo":3.11e-17,"hi":0.000619}]},"mark":{"type":"rect","fill":{"gradient":"linear","x1":0,"y1":0,"x2":0,"y2":1,"stops":[{"offset":0,"color":"#b81c2a"},{"offset":0.25,"color":"#d76a64"},{"offset":0.5,"color":"#e9b9a2"},{"offset":0.75,"color":"#8c6d63"},{"offset":1,"color":"#35252a"}]}},"encoding":{"y":{"field":"lo","type":"quantitative","scale":{"domain":[0.000619,3.11e-17],"nice":false,"zero":false},"axis":{"orient":"right","values":[3.11e-17,0.00031,0.000619],"labelExpr":"datum.value<1e-6?'3.11e-17':datum.value<4e-4?'3.10e-04':'6.19e-04'","title":null,"domain":false,"ticks":false,"labelFontSize":9,"labelPadding":3}},"y2":{"field":"hi"}}}
],"spacing":145,"bounds":"flush"}],"spacing":446,"bounds":"flush"},
{"hconcat":[{"data":{"values":[]},"mark":"point","width":0,"height":0},{"vconcat":[{"data":{"values":[]},"mark":"point","width":0,"height":0},
{"width":149.5,"height":94.3,"view":{"stroke":"#444","strokeWidth":1},"title":{"text":"HALLMARK_HYPOXIA","offset":4.5,"fontSize":8.8},"layer":[
{"mark":{"type":"rule","color":"#bbbbbb","strokeWidth":1},"data":{"values":[{"es":0}]},"encoding":{"y":{"field":"es","type":"quantitative","scale":{"domain":[-0.71,0.535],"nice":false},"axis":{"title":"786-O","titleFontSize":9,"titleX":-3,"titleY":51,"labels":false,"ticks":false,"domain":false}}}},
{"data":{"name":"hits1"},"mark":{"type":"rule","color":"#000","strokeWidth":1,"opacity":0.6},"encoding":{"x":{"field":"r","type":"quantitative","scale":{"domain":[0,1]},"axis":null},"y":{"datum":-0.21,"type":"quantitative","scale":{"domain":[-0.71,0.535],"nice":false}},"y2":{"datum":-0.447}}},
{"data":{"values":[{"a":0,"b":0.24,"k":"r1"},{"a":0.24,"b":0.365,"k":"r2"},{"a":0.365,"b":0.645,"k":"p"},{"a":0.645,"b":0.81,"k":"l"},{"a":0.81,"b":0.95,"k":"u"}]},"mark":"rect","encoding":{"x":{"field":"a","type":"quantitative","scale":{"domain":[0,1]},"axis":null},"x2":{"field":"b"},"y":{"datum":-0.447,"type":"quantitative","scale":{"domain":[-0.71,0.535],"nice":false}},"y2":{"datum":-0.513},"color":{"field":"k","scale":{"domain":["r1","r2","p","l","u"],"range":["#e2404a","#e86a78","#efb8dc","#c3c4e6","#5a5ac0"]},"legend":null}}},
{"data":{"values":[{"x":0.002,"y":0},{"x":0.013,"y":0.123},{"x":0.03,"y":0.276},{"x":0.05,"y":0.386},{"x":0.07,"y":0.447},{"x":0.098,"y":0.461},{"x":0.127,"y":0.487},{"x":0.158,"y":0.5},{"x":0.187,"y":0.487},{"x":0.22,"y":0.452},{"x":0.265,"y":0.412},{"x":0.332,"y":0.351},{"x":0.399,"y":0.294},{"x":0.465,"y":0.211},{"x":0.532,"y":0.123},{"x":0.6,"y":0.044},{"x":0.666,"y":-0.035},{"x":0.733,"y":-0.101},{"x":0.788,"y":-0.149},{"x":0.833,"y":-0.145},{"x":0.889,"y":-0.158},{"x":0.911,"y":-0.14},{"x":0.933,"y":-0.088},{"x":0.951,"y":0}]},"mark":{"type":"line","color":"#66cc44","strokeWidth":1},"encoding":{"x":{"field":"x","type":"quantitative","scale":{"domain":[0,1]},"axis":null},"y":{"field":"y","type":"quantitative","scale":{"domain":[-0.71,0.535],"nice":false}}}},
{"data":{"values":[{"t":"NES=1.44","x":0.982,"y":0.465},{"t":"p=0.0","x":0.982,"y":0.32},{"t":"USP7 sh#2","x":0.969,"y":-0.623}]},"mark":{"type":"text","align":"right","baseline":"middle","fontSize":9},"encoding":{"text":{"field":"t"},"x":{"field":"x","type":"quantitative","scale":{"domain":[0,1]},"axis":null},"y":{"field":"y","type":"quantitative","scale":{"domain":[-0.71,0.535],"nice":false}}}},
{"data":{"values":[{"t":"Ctrl sh","x":0.008,"y":-0.623}]},"mark":{"type":"text","align":"left","baseline":"middle","fontSize":9},"encoding":{"text":{"field":"t"},"x":{"field":"x","type":"quantitative","scale":{"domain":[0,1]},"axis":null},"y":{"field":"y","type":"quantitative","scale":{"domain":[-0.71,0.535],"nice":false}}}}
]}],"spacing":28.7,"bounds":"flush"}],"spacing":553.5,"bounds":"flush"},
{"hconcat":[{"data":{"values":[]},"mark":"point","width":0,"height":0},{"vconcat":[{"data":{"values":[]},"mark":"point","width":0,"height":0},
{"width":149,"height":93.5,"view":{"stroke":"#444","strokeWidth":1},"title":{"text":"ELVIDGE_HYPOXIA_UP","offset":3,"fontSize":8.8},"layer":[
{"mark":{"type":"rule","color":"#bbbbbb","strokeWidth":1},"data":{"values":[{"es":-0.21}]},"encoding":{"y":{"field":"es","type":"quantitative","scale":{"domain":[-0.702,0.526],"nice":false},"axis":{"title":"OS-RC-2","titleFontSize":9,"titleX":-3,"titleY":53,"labels":false,"ticks":false,"domain":false}}}},
{"data":{"name":"hits2"},"mark":{"type":"rule","color":"#000","strokeWidth":1,"opacity":0.6},"encoding":{"x":{"field":"r","type":"quantitative","scale":{"domain":[0,1]},"axis":null},"y":{"datum":-0.219,"type":"quantitative","scale":{"domain":[-0.702,0.526],"nice":false}},"y2":{"datum":-0.439}}},
{"data":{"values":[{"a":0,"b":0.2,"k":"r1"},{"a":0.2,"b":0.355,"k":"r2"},{"a":0.355,"b":0.63,"k":"p"},{"a":0.63,"b":0.79,"k":"l"},{"a":0.79,"b":0.93,"k":"u"}]},"mark":"rect","encoding":{"x":{"field":"a","type":"quantitative","scale":{"domain":[0,1]},"axis":null},"x2":{"field":"b"},"y":{"datum":-0.447,"type":"quantitative","scale":{"domain":[-0.702,0.526],"nice":false}},"y2":{"datum":-0.509},"color":{"field":"k","scale":{"domain":["r1","r2","p","l","u"],"range":["#e2404a","#e86a78","#efb8dc","#c3c4e6","#5a5ac0"]},"legend":null}}},
{"data":{"values":[{"x":0.002,"y":0},{"x":0.014,"y":0.132},{"x":0.03,"y":0.263},{"x":0.052,"y":0.373},{"x":0.085,"y":0.439},{"x":0.118,"y":0.469},{"x":0.152,"y":0.487},{"x":0.185,"y":0.474},{"x":0.23,"y":0.452},{"x":0.286,"y":0.404},{"x":0.353,"y":0.329},{"x":0.42,"y":0.25},{"x":0.487,"y":0.167},{"x":0.554,"y":0.079},{"x":0.62,"y":0},{"x":0.688,"y":-0.079},{"x":0.743,"y":-0.132},{"x":0.8,"y":-0.149},{"x":0.867,"y":-0.158},{"x":0.9,"y":-0.162},{"x":0.917,"y":-0.088},{"x":0.928,"y":-0.079},{"x":0.935,"y":-0.11}]},"mark":{"type":"line","color":"#66cc44","strokeWidth":1},"encoding":{"x":{"field":"x","type":"quantitative","scale":{"domain":[0,1]},"axis":null},"y":{"field":"y","type":"quantitative","scale":{"domain":[-0.702,0.526],"nice":false}}}},
{"data":{"values":[{"t":"NES=1.45","x":0.958,"y":0.439},{"t":"p=0.0","x":0.958,"y":0.298},{"t":"USP7 sh#2","x":0.969,"y":-0.627}]},"mark":{"type":"text","align":"right","baseline":"middle","fontSize":9},"encoding":{"text":{"field":"t"},"x":{"field":"x","type":"quantitative","scale":{"domain":[0,1]},"axis":null},"y":{"field":"y","type":"quantitative","scale":{"domain":[-0.702,0.526],"nice":false}}}},
{"data":{"values":[{"t":"Ctrl sh","x":0.004,"y":-0.627}]},"mark":{"type":"text","align":"left","baseline":"middle","fontSize":9},"encoding":{"text":{"field":"t"},"x":{"field":"x","type":"quantitative","scale":{"domain":[0,1]},"axis":null},"y":{"field":"y","type":"quantitative","scale":{"domain":[-0.702,0.526],"nice":false}}}}
]}],"spacing":140,"bounds":"flush"}],"spacing":554,"bounds":"flush"},
{"hconcat":[{"data":{"values":[]},"mark":"point","width":0,"height":0},{"vconcat":[{"data":{"values":[]},"mark":"point","width":0,"height":0},
{"width":93.8,"height":68,"view":{"stroke":"#555","strokeWidth":1},"title":{"text":"HIF2α","offset":1,"dx":-3.7},"data":{"values":[{"x":-1,"y":0.11},{"x":-0.6,"y":0.155},{"x":-0.54,"y":0.22},{"x":-0.5,"y":0.4},{"x":-0.4,"y":0.5},{"x":-0.2,"y":0.79},{"x":-0.1,"y":0.93},{"x":-0.01,"y":0.98},{"x":0.1,"y":0.93},{"x":0.25,"y":0.72},{"x":0.4,"y":0.5},{"x":0.5,"y":0.4},{"x":0.55,"y":0.25},{"x":0.6,"y":0.16},{"x":1,"y":0.11}]},"mark":{"type":"line","color":"#ef5350","strokeWidth":1,"interpolate":"monotone"},"encoding":{"x":{"field":"x","type":"quantitative","scale":{"domain":[-1,1]},"axis":{"title":null,"values":[-0.5,0.5],"labelExpr":"datum.value>0?'0.5 Kb':'-0.5'","domain":false,"tickSize":3,"labelPadding":2,"labelFontSize":9}},"y":{"field":"y","type":"quantitative","scale":{"domain":[0.067,1.028],"nice":false,"zero":false},"axis":{"title":null,"values":[0.2,0.4,0.6,0.8,1],"format":".1f","domain":false,"tickSize":3,"labelPadding":2,"labelFontSize":9}}}}
],"spacing":288.7,"bounds":"flush"}],"spacing":45.5,"bounds":"flush"},
{"hconcat":[{"data":{"values":[]},"mark":"point","width":0,"height":0},{"vconcat":[{"data":{"values":[]},"mark":"point","width":0,"height":0},
{"width":93.3,"height":68,"view":{"stroke":"#555","strokeWidth":1},"title":{"text":"input","offset":1,"dx":1.7},"layer":[
{"data":{"values":[{"x":-1,"y":0.075},{"x":-0.5,"y":0.1},{"x":0,"y":0.102},{"x":0.5,"y":0.1},{"x":1,"y":0.075}]},"mark":{"type":"line","color":"#ef5350","strokeWidth":1.5},"encoding":{"x":{"field":"x","type":"quantitative","scale":{"domain":[-1,1]},"axis":{"title":null,"values":[-0.5,0.5],"labelExpr":"datum.value>0?'0.5 Kb':'-0.5'","domain":false,"tickSize":3,"labelPadding":2,"labelFontSize":9}},"y":{"field":"y","type":"quantitative","scale":{"domain":[0.067,1.028],"nice":false,"zero":false},"axis":{"title":null,"values":[0.2,0.4,0.6,0.8,1],"labels":false,"domain":false,"tickSize":3}}}},
{"data":{"values":[{"x":-0.05,"x2":0.272,"y":0.925}]},"mark":{"type":"rule","color":"#ef5350","strokeWidth":1},"encoding":{"x":{"field":"x","type":"quantitative","scale":{"domain":[-1,1]}},"x2":{"field":"x2"},"y":{"field":"y","type":"quantitative","scale":{"domain":[0.067,1.028],"nice":false,"zero":false}}}},
{"data":{"values":[{"t":"genes","x":0.372,"y":0.925}]},"mark":{"type":"text","align":"left","baseline":"middle","fontSize":8.5},"encoding":{"text":{"field":"t"},"x":{"field":"x","type":"quantitative","scale":{"domain":[-1,1]}},"y":{"field":"y","type":"quantitative","scale":{"domain":[0.067,1.028],"nice":false,"zero":false}}}}
]}],"spacing":288.7,"bounds":"flush"}],"spacing":146.7,"bounds":"flush"},
{"hconcat":[{"data":{"values":[]},"mark":"point","width":0,"height":0},{"vconcat":[{"data":{"values":[]},"mark":"point","width":0,"height":0},
{"width":93,"height":164.4,"view":{"stroke":"#555","strokeWidth":1.2,"fill":"#fcf5f0"},"data":{"name":"peaks"},"mark":{"type":"rect","strokeWidth":0.5},"encoding":{"x":{"field":"c","type":"ordinal","scale":{"domain":[1,2,3,4,5,6,7,8,9,10,11,12,13,14,15,16,17,18,19,20]},"axis":null},"y":{"field":"r","type":"ordinal","scale":{"domain":[1,2,3,4,5,6,7,8,9,10,11,12,13,14,15,16,17,18,19,20,21,22,23,24,25,26,27,28,29,30]},"axis":{"title":"Genes (n=3009)","titleFontSize":9,"titleX":-8,"titleY":75,"labels":false,"ticks":false,"domain":false}},"color":{"field":"v","type":"quantitative","scale":{"domain":[1,1.25,1.6,2,3,3.7,4,5],"range":["#fcf5f0","#f9e7da","#f6d3c2","#f6c0aa","#ee8065","#ee3328","#c81f20","#6d0f14"]},"legend":null},"stroke":{"field":"v","type":"quantitative","scale":{"domain":[1,1.25,1.6,2,3,3.7,4,5],"range":["#fcf5f0","#f9e7da","#f6d3c2","#f6c0aa","#ee8065","#ee3328","#c81f20","#6d0f14"]},"legend":null}}}
],"spacing":373.3,"bounds":"flush"}],"spacing":46.3,"bounds":"flush"},
{"hconcat":[{"data":{"values":[]},"mark":"point","width":0,"height":0},{"vconcat":[{"data":{"values":[]},"mark":"point","width":0,"height":0},
{"width":93.3,"height":164.4,"view":{"stroke":"#555","strokeWidth":1.2,"fill":"#fcf5f0"},"data":{"values":[{"c":7,"v":1.12},{"c":8,"v":1.15},{"c":9,"v":1.15},{"c":10,"v":1.18},{"c":11,"v":1.18},{"c":12,"v":1.18},{"c":13,"v":1.15},{"c":14,"v":1.12}]},"mark":{"type":"rect"},"encoding":{"x":{"field":"c","type":"ordinal","scale":{"domain":[1,2,3,4,5,6,7,8,9,10,11,12,13,14,15,16,17,18,19,20]},"axis":null},"y":{"datum":0,"type":"quantitative","scale":{"domain":[30,0]},"axis":null},"y2":{"datum":1},"color":{"field":"v","type":"quantitative","scale":{"domain":[1,1.25,1.6,2,3,3.7,4,5],"range":["#fcf5f0","#f9e7da","#f6d3c2","#f6c0aa","#ee8065","#ee3328","#c81f20","#6d0f14"]},"legend":null}}}
],"spacing":373.3,"bounds":"flush"}],"spacing":147,"bounds":"flush"},
{"hconcat":[{"data":{"values":[]},"mark":"point","width":0,"height":0},{"vconcat":[{"data":{"values":[]},"mark":"point","width":0,"height":0},
{"width":6.3,"height":113.3,"data":{"values":[{"lo":1,"hi":5}]},"mark":{"type":"rect","fill":{"gradient":"linear","x1":0,"y1":0,"x2":0,"y2":1,"stops":[{"offset":0,"color":"#6d0f14"},{"offset":0.2,"color":"#b81d1e"},{"offset":0.33,"color":"#ee3328"},{"offset":0.5,"color":"#ee8065"},{"offset":0.75,"color":"#f6c9b4"},{"offset":1,"color":"#fdf6f2"}]}},"encoding":{"y":{"field":"lo","type":"quantitative","scale":{"domain":[1,5],"nice":false,"zero":false},"axis":{"orient":"right","values":[1,2,3,4,5],"format":"d","title":null,"domain":false,"ticks":false,"labelFontSize":9,"labelPadding":3}},"y2":{"field":"hi"}}}
],"spacing":396.7,"bounds":"flush"}],"spacing":245,"bounds":"flush"},
{"hconcat":[{"data":{"values":[]},"mark":"point","width":0,"height":0},{"vconcat":[{"data":{"values":[]},"mark":"point","width":0,"height":0},
{"width":420,"height":146.7,"title":{"text":"OS-RC-2","offset":0,"dx":-5,"fontSize":10},"layer":[
{"data":{"name":"g_bars"},"mark":{"type":"bar"},"encoding":{"x":{"field":"gene","type":"nominal","scale":{"domain":["EPO","ANG2","DDIT4","SLC2A3","ASPH","CCND1","SEMA5B","INSIG1","EGLN3","EDN2"],"paddingInner":0.35,"paddingOuter":0.175},"axis":{"title":null,"labelAngle":0,"ticks":false,"labelPadding":9.5,"labelFontSize":10.2,"domainWidth":1.2,"labelOverlap":false,"labelLimit":0}},"xOffset":{"field":"grp","type":"nominal","scale":{"domain":["Ctrl sh","USP7 sh#2"]}},"y":{"field":"mean","type":"quantitative","stack":null,"scale":{"domain":[0,1.5],"nice":false},"axis":{"title":"Relative mRNA level","titleFontSize":10.5,"titlePadding":1,"values":[0,0.5,1,1.5],"format":".1f","labelFontSize":10.2,"tickSize":5,"tickWidth":1.2,"domainWidth":1.2,"labelPadding":3}},"color":{"field":"grp","scale":{"domain":["Ctrl sh","USP7 sh#2"],"range":["#f42a28","#36459f"]},"legend":null}}},
{"data":{"name":"g_bars"},"mark":{"type":"rule","color":"#111","strokeWidth":0.9},"encoding":{"x":{"field":"gene","type":"nominal"},"xOffset":{"field":"grp","type":"nominal","scale":{"domain":["Ctrl sh","USP7 sh#2"]}},"y":{"field":"lo","type":"quantitative","scale":{"domain":[0,1.5],"nice":false}},"y2":{"field":"hi"}}},
{"data":{"name":"g_bars"},"mark":{"type":"tick","color":"#111","size":7,"thickness":0.9,"opacity":1},"encoding":{"x":{"field":"gene","type":"nominal"},"xOffset":{"field":"grp","type":"nominal","scale":{"domain":["Ctrl sh","USP7 sh#2"]}},"y":{"field":"lo","type":"quantitative","scale":{"domain":[0,1.5],"nice":false}}}},
{"data":{"name":"g_bars"},"mark":{"type":"tick","color":"#111","size":7,"thickness":0.9,"opacity":1},"encoding":{"x":{"field":"gene","type":"nominal"},"xOffset":{"field":"grp","type":"nominal","scale":{"domain":["Ctrl sh","USP7 sh#2"]}},"y":{"field":"hi","type":"quantitative","scale":{"domain":[0,1.5],"nice":false}}}},
{"data":{"name":"g_pts"},"mark":{"type":"point","filled":true,"fill":"#fff","stroke":"#222","strokeWidth":1,"size":18,"opacity":1},"encoding":{"x":{"field":"gene","type":"nominal"},"xOffset":{"field":"k","type":"nominal","scale":{"domain":["c1","c2","c3","u1","u2","u3"]}},"y":{"field":"val","type":"quantitative","scale":{"domain":[0,1.5],"nice":false}}}},
{"data":{"name":"g_bars"},"transform":[{"filter":"datum.sig"}],"mark":{"type":"text","fontSize":9,"baseline":"middle","dy":-6},"encoding":{"text":{"field":"sig"},"x":{"field":"gene","type":"nominal"},"xOffset":{"field":"grp","type":"nominal","scale":{"domain":["Ctrl sh","USP7 sh#2"]}},"y":{"field":"hi","type":"quantitative","scale":{"domain":[0,1.5],"nice":false}}}}
],"resolve":{"scale":{"xOffset":"independent"}}}
],"spacing":602,"bounds":"flush"}],"spacing":59,"bounds":"flush"},
{"hconcat":[{"data":{"values":[]},"mark":"point","width":0,"height":0},{"vconcat":[{"data":{"values":[]},"mark":"point","width":0,"height":0},
{"width":84,"height":12,"layer":[{"data":{"values":[{"grp":"Ctrl sh","a":0,"b":17},{"grp":"USP7 sh#2","a":59,"b":75.7}]},"mark":"rect","encoding":{"x":{"field":"a","type":"quantitative","scale":{"domain":[0,84]},"axis":null},"x2":{"field":"b"},"color":{"field":"grp","scale":{"domain":["Ctrl sh","USP7 sh#2"],"range":["#f42a28","#36459f"]},"legend":null}}},{"data":{"values":[{"t":"Ctrl sh","a":20.3},{"t":"USP7 sh#2","a":78.7}]},"mark":{"type":"text","align":"left","baseline":"middle","fontSize":10.2},"encoding":{"text":{"field":"t"},"x":{"field":"a","type":"quantitative","scale":{"domain":[0,84]},"axis":null}}}]}
],"spacing":606,"bounds":"flush"}],"spacing":66,"bounds":"flush"},
{"hconcat":[{"data":{"values":[]},"mark":"point","width":0,"height":0},{"vconcat":[{"data":{"values":[]},"mark":"point","width":0,"height":0},
{"width":420,"height":146.4,"title":{"text":"786-O","offset":3,"dx":-8,"fontSize":10},"layer":[
{"data":{"name":"h_bars"},"mark":{"type":"bar"},"encoding":{"x":{"field":"gene","type":"nominal","scale":{"domain":["EPO","ANG2","DDIT4","SLC2A3","ASPH","CCND1","SEMA5B","INSIG1","EGLN3","EDN2"],"paddingInner":0.35,"paddingOuter":0.175},"axis":{"title":null,"labelAngle":0,"ticks":false,"labelPadding":6,"labelFontSize":10.2,"domainWidth":1.2,"labelOverlap":false,"labelLimit":0}},"xOffset":{"field":"grp","type":"nominal","scale":{"domain":["Ctrl sh","USP7 sh#2"]}},"y":{"field":"mean","type":"quantitative","stack":null,"scale":{"domain":[0,1.5],"nice":false},"axis":{"title":"Relative mRNA level","titleFontSize":10.5,"titlePadding":2,"values":[0,0.5,1,1.5],"format":".1f","labelFontSize":10.2,"tickSize":5,"tickWidth":1.2,"domainWidth":1.2,"labelPadding":3}},"color":{"field":"grp","scale":{"domain":["Ctrl sh","USP7 sh#2"],"range":["#f42a28","#3f55a5"]},"legend":null}}},
{"data":{"name":"h_bars"},"mark":{"type":"rule","color":"#111","strokeWidth":0.9},"encoding":{"x":{"field":"gene","type":"nominal"},"xOffset":{"field":"grp","type":"nominal","scale":{"domain":["Ctrl sh","USP7 sh#2"]}},"y":{"field":"lo","type":"quantitative","scale":{"domain":[0,1.5],"nice":false}},"y2":{"field":"hi"}}},
{"data":{"name":"h_bars"},"mark":{"type":"tick","color":"#111","size":7,"thickness":0.9,"opacity":1},"encoding":{"x":{"field":"gene","type":"nominal"},"xOffset":{"field":"grp","type":"nominal","scale":{"domain":["Ctrl sh","USP7 sh#2"]}},"y":{"field":"lo","type":"quantitative","scale":{"domain":[0,1.5],"nice":false}}}},
{"data":{"name":"h_bars"},"mark":{"type":"tick","color":"#111","size":7,"thickness":0.9,"opacity":1},"encoding":{"x":{"field":"gene","type":"nominal"},"xOffset":{"field":"grp","type":"nominal","scale":{"domain":["Ctrl sh","USP7 sh#2"]}},"y":{"field":"hi","type":"quantitative","scale":{"domain":[0,1.5],"nice":false}}}},
{"data":{"name":"h_pts"},"mark":{"type":"point","filled":true,"fill":"#fff","stroke":"#222","strokeWidth":1,"size":18,"opacity":1},"encoding":{"x":{"field":"gene","type":"nominal"},"xOffset":{"field":"k","type":"nominal","scale":{"domain":["c1","c2","c3","u1","u2","u3"]}},"y":{"field":"val","type":"quantitative","scale":{"domain":[0,1.5],"nice":false}}}},
{"data":{"name":"h_bars"},"transform":[{"filter":"datum.sig"}],"mark":{"type":"text","fontSize":9,"baseline":"middle","dy":-6},"encoding":{"text":{"field":"sig"},"x":{"field":"gene","type":"nominal"},"xOffset":{"field":"grp","type":"nominal","scale":{"domain":["Ctrl sh","USP7 sh#2"]}},"y":{"field":"hi","type":"quantitative","scale":{"domain":[0,1.5],"nice":false}}}}
],"resolve":{"scale":{"xOffset":"independent"}}}
],"spacing":834.3,"bounds":"flush"}],"spacing":59,"bounds":"flush"},
{"hconcat":[{"data":{"values":[]},"mark":"point","width":0,"height":0},{"vconcat":[{"data":{"values":[]},"mark":"point","width":0,"height":0},
{"width":84,"height":12,"layer":[{"data":{"values":[{"grp":"Ctrl sh","a":0,"b":17},{"grp":"USP7 sh#2","a":59,"b":75.7}]},"mark":"rect","encoding":{"x":{"field":"a","type":"quantitative","scale":{"domain":[0,84]},"axis":null},"x2":{"field":"b"},"color":{"field":"grp","scale":{"domain":["Ctrl sh","USP7 sh#2"],"range":["#f42a28","#36459f"]},"legend":null}}},{"data":{"values":[{"t":"Ctrl sh","a":20.3},{"t":"USP7 sh#2","a":78.7}]},"mark":{"type":"text","align":"left","baseline":"middle","fontSize":10.2},"encoding":{"text":{"field":"t"},"x":{"field":"a","type":"quantitative","scale":{"domain":[0,84]},"axis":null}}}]}
],"spacing":838,"bounds":"flush"}],"spacing":66,"bounds":"flush"},
{"hconcat":[{"data":{"values":[]},"mark":"point","width":0,"height":0},{"vconcat":[{"data":{"values":[]},"mark":"point","width":0,"height":0},
{"width":124,"height":21.7,"layer":[
{"data":{"values":[{"a":0.42,"b":5.55,"y":0.51},{"a":6.3,"b":11.16,"y":0.51}]},"mark":{"type":"rule","color":"#222","strokeWidth":0.8},"encoding":{"x":{"field":"a","type":"quantitative","scale":{"domain":[0,12]},"axis":null},"x2":{"field":"b"},"y":{"field":"y","type":"quantitative","scale":{"domain":[1,0]},"axis":null}}},
{"data":{"values":[{"t":"786-O","x":3.03,"y":0.31},{"t":"OS-RC-2","x":8.94,"y":0.31},{"t":"Ctrl sh","x":1.58,"y":0.77},{"t":"sh#2","x":4.38,"y":0.77},{"t":"Ctrl sh","x":7.58,"y":0.77},{"t":"sh#2","x":10.39,"y":0.77}]},"mark":{"type":"text","baseline":"middle","fontSize":8.8},"encoding":{"text":{"field":"t"},"x":{"field":"x","type":"quantitative","scale":{"domain":[0,12]},"axis":null},"y":{"field":"y","type":"quantitative","scale":{"domain":[1,0]},"axis":null}}}
]}],"spacing":255,"bounds":"flush"}],"spacing":572.7,"bounds":"flush"},
{"hconcat":[{"data":{"values":[]},"mark":"point","width":0,"height":0},{"vconcat":[{"data":{"values":[]},"mark":"point","width":0,"height":0},
{"width":124,"height":721.3,"data":{"name":"expr"},"mark":{"type":"rect","stroke":"#c5bfe0","strokeWidth":0.7},"encoding":{"x":{"field":"c","type":"ordinal","scale":{"domain":[1,2,3,4,5,6,7,8,9,10,11,12]},"axis":null},"y":{"field":"g","type":"nominal","sort":null,"axis":{"title":null,"ticks":false,"domain":false,"labelPadding":6,"labelFontSize":8,"labelOverlap":false,"labelColor":{"condition":{"test":"indexof(['SPRY2','SRSF3','SIN3A','UBE2D2','SLC2A3','AXL','INSIG1','CITED2','MAML1','ITPR1','SEMA6A','CA12','HES1'],datum.value)>=0","value":"#ee1c25"},"value":"#222222"}}},"color":{"field":"v","type":"quantitative","scale":{"domain":[-5,-4,-3,-2,-1,0,1,2,3,4,5],"range":["#313695","#4575b4","#74add1","#abd9e9","#e0f3f8","#ffffbf","#fee090","#fdae61","#f46d43","#d73027","#a50026"]},"legend":null}}}
],"spacing":276.7,"bounds":"flush"}],"spacing":572.7,"bounds":"flush"},
{"hconcat":[{"data":{"values":[]},"mark":"point","width":0,"height":0},{"vconcat":[{"data":{"values":[]},"mark":"point","width":0,"height":0},{"width":0,"height":0,"data":{"values":[{"l":"786-O"}]},"mark":{"type":"text","fontSize":9},"encoding":{"text":{"field":"l"}}}],"spacing":278,"bounds":"flush"}],"spacing":140,"bounds":"flush"},
{"hconcat":[{"data":{"values":[]},"mark":"point","width":0,"height":0},{"vconcat":[{"data":{"values":[]},"mark":"point","width":0,"height":0},{"width":0,"height":0,"data":{"values":[{"l":"a"}]},"mark":{"type":"text","fontSize":16,"fontWeight":"bold","color":"#000"},"encoding":{"text":{"field":"l"}}}],"spacing":7.5,"bounds":"flush"}],"spacing":6,"bounds":"flush"},
{"hconcat":[{"data":{"values":[]},"mark":"point","width":0,"height":0},{"vconcat":[{"data":{"values":[]},"mark":"point","width":0,"height":0},{"width":0,"height":0,"data":{"values":[{"l":"b"}]},"mark":{"type":"text","fontSize":16,"fontWeight":"bold","color":"#000"},"encoding":{"text":{"field":"l"}}}],"spacing":8,"bounds":"flush"}],"spacing":183,"bounds":"flush"},
{"hconcat":[{"data":{"values":[]},"mark":"point","width":0,"height":0},{"vconcat":[{"data":{"values":[]},"mark":"point","width":0,"height":0},{"width":0,"height":0,"data":{"values":[{"l":"c"}]},"mark":{"type":"text","fontSize":16,"fontWeight":"bold","color":"#000"},"encoding":{"text":{"field":"l"}}}],"spacing":9.5,"bounds":"flush"}],"spacing":522,"bounds":"flush"},
{"hconcat":[{"data":{"values":[]},"mark":"point","width":0,"height":0},{"vconcat":[{"data":{"values":[]},"mark":"point","width":0,"height":0},{"width":0,"height":0,"data":{"values":[{"l":"d"}]},"mark":{"type":"text","fontSize":16,"fontWeight":"bold","color":"#000"},"encoding":{"text":{"field":"l"}}}],"spacing":255,"bounds":"flush"}],"spacing":6,"bounds":"flush"},
{"hconcat":[{"data":{"values":[]},"mark":"point","width":0,"height":0},{"vconcat":[{"data":{"values":[]},"mark":"point","width":0,"height":0},{"width":0,"height":0,"data":{"values":[{"l":"e"}]},"mark":{"type":"text","fontSize":16,"fontWeight":"bold","color":"#000"},"encoding":{"text":{"field":"l"}}}],"spacing":252,"bounds":"flush"}],"spacing":289,"bounds":"flush"},
{"hconcat":[{"data":{"values":[]},"mark":"point","width":0,"height":0},{"vconcat":[{"data":{"values":[]},"mark":"point","width":0,"height":0},{"width":0,"height":0,"data":{"values":[{"l":"f"}]},"mark":{"type":"text","fontSize":16,"fontWeight":"bold","color":"#000"},"encoding":{"text":{"field":"l"}}}],"spacing":257,"bounds":"flush"}],"spacing":508,"bounds":"flush"},
{"hconcat":[{"data":{"values":[]},"mark":"point","width":0,"height":0},{"vconcat":[{"data":{"values":[]},"mark":"point","width":0,"height":0},{"width":0,"height":0,"data":{"values":[{"l":"g"}]},"mark":{"type":"text","fontSize":16,"fontWeight":"bold","color":"#000"},"encoding":{"text":{"field":"l"}}}],"spacing":570,"bounds":"flush"}],"spacing":6,"bounds":"flush"},
{"hconcat":[{"data":{"values":[]},"mark":"point","width":0,"height":0},{"vconcat":[{"data":{"values":[]},"mark":"point","width":0,"height":0},{"width":0,"height":0,"data":{"values":[{"l":"h"}]},"mark":{"type":"text","fontSize":16,"fontWeight":"bold","color":"#000"},"encoding":{"text":{"field":"l"}}}],"spacing":808,"bounds":"flush"}],"spacing":6,"bounds":"flush"}
]}
